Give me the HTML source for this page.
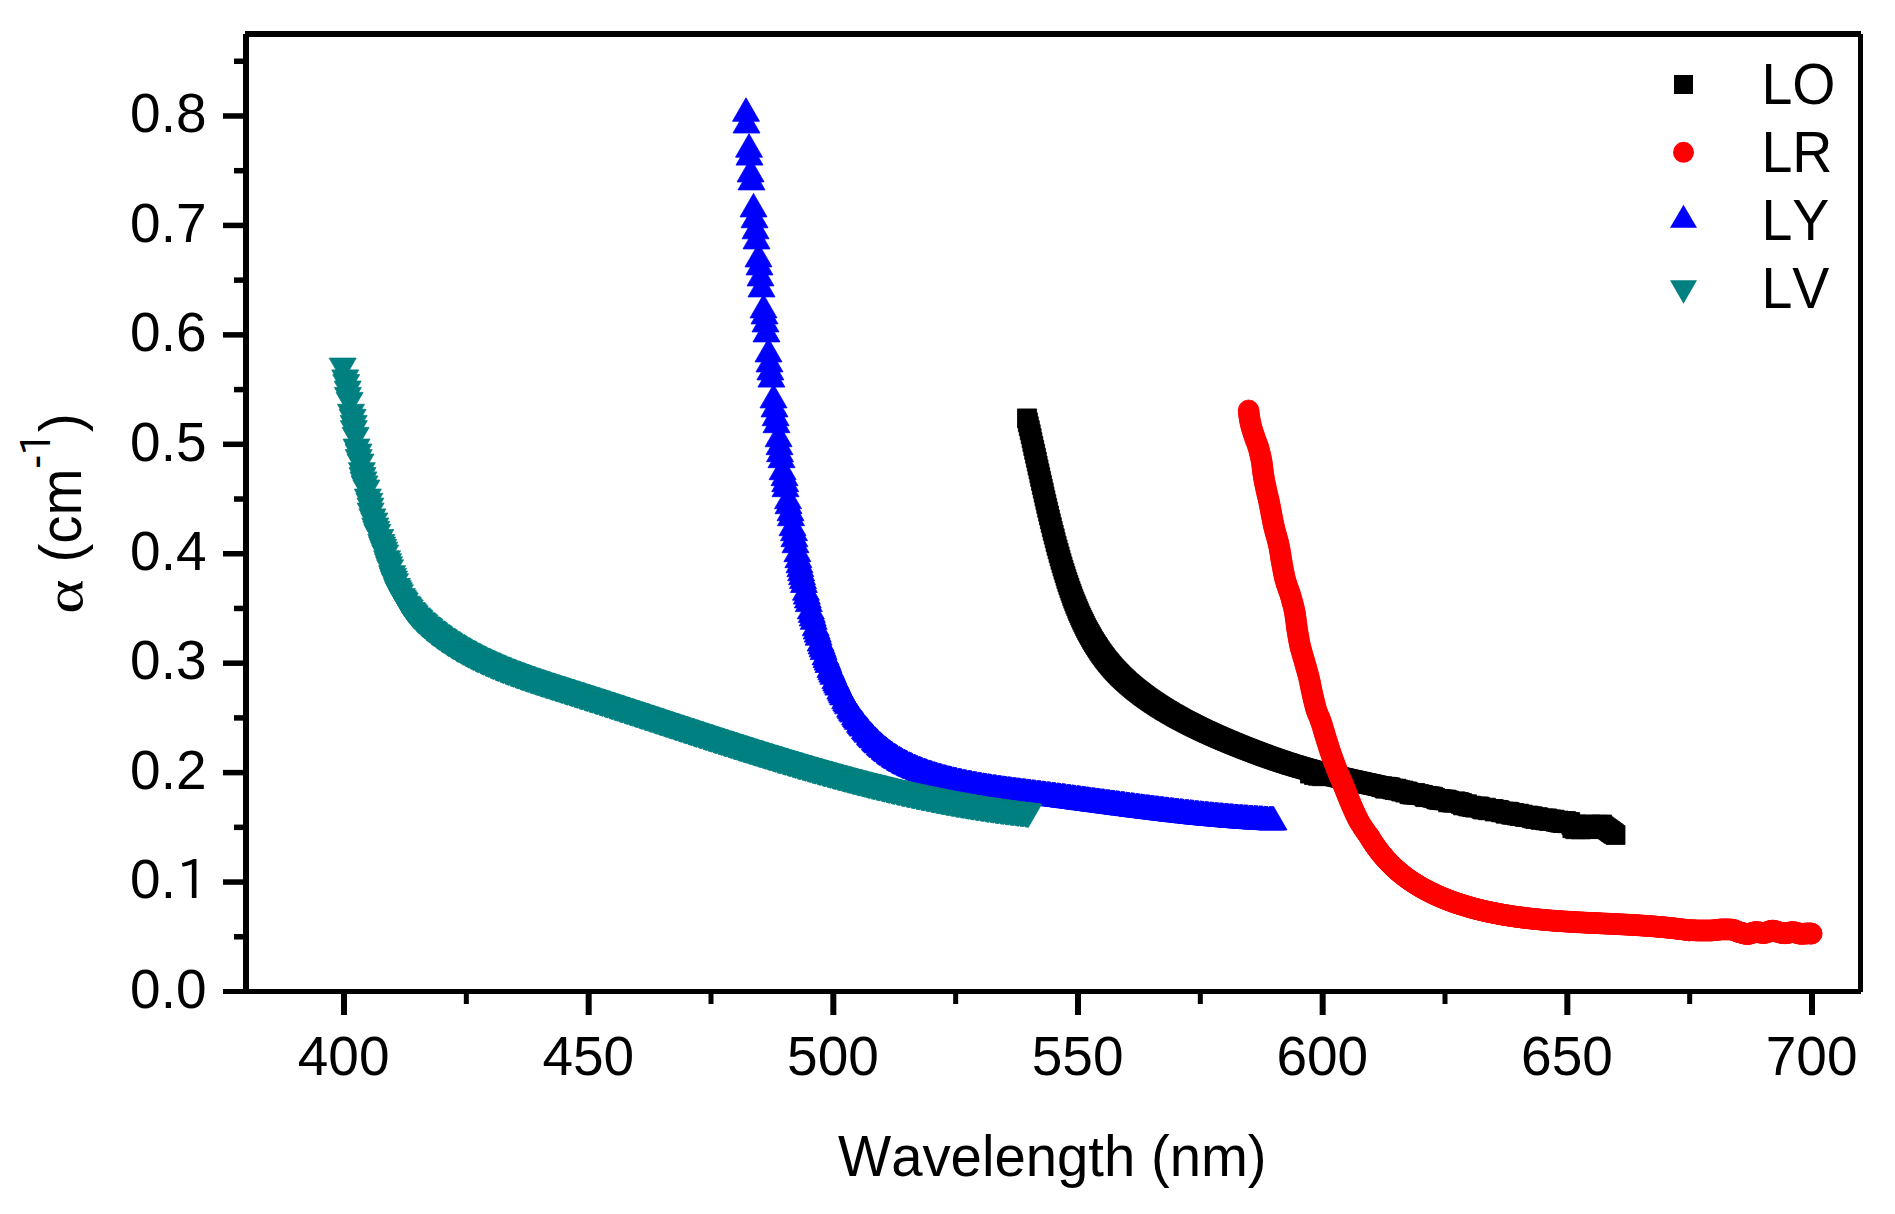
<!DOCTYPE html><html><head><meta charset="utf-8"><title>Absorption</title>
<style>html,body{margin:0;padding:0;background:#fff}svg{display:block}text{font-family:"Liberation Sans",sans-serif;fill:#000;font-kerning:none}</style></head><body>
<svg width="1895" height="1214" viewBox="0 0 1895 1214">
<rect width="1895" height="1214" fill="#fff"/>
<path fill="#000" stroke="#000" stroke-width="0.8" d="M1017.5 408.9h19v19h-19zM1018.4 412.8h19v19h-19zM1019.3 416.8h19v19h-19zM1020.3 420.8h19v19h-19zM1021.2 424.7h19v19h-19zM1022.1 428.6h19v19h-19zM1022.9 432.6h19v19h-19zM1023.8 436.5h19v19h-19zM1024.7 440.4h19v19h-19zM1025.6 444.3h19v19h-19zM1026.4 448.2h19v19h-19zM1027.3 452.1h19v19h-19zM1028.1 456h19v19h-19zM1029 459.9h19v19h-19zM1029.9 463.8h19v19h-19zM1030.7 467.6h19v19h-19zM1031.6 471.5h19v19h-19zM1032.4 475.4h19v19h-19zM1033.3 479.2h19v19h-19zM1034.2 483.1h19v19h-19zM1035 486.9h19v19h-19zM1035.9 490.7h19v19h-19zM1036.8 494.6h19v19h-19zM1037.7 498.4h19v19h-19zM1038.6 502.2h19v19h-19zM1039.5 506h19v19h-19zM1040.4 509.9h19v19h-19zM1041.3 513.7h19v19h-19zM1042.3 517.5h19v19h-19zM1043.2 521.3h19v19h-19zM1044.2 525.1h19v19h-19zM1045.2 528.8h19v19h-19zM1046.1 532.6h19v19h-19zM1047.1 536.3h19v19h-19zM1048.1 539.9h19v19h-19zM1049.1 543.4h19v19h-19zM1050.1 546.9h19v19h-19zM1051 550.3h19v19h-19zM1052 553.7h19v19h-19zM1053 557h19v19h-19zM1054 560.3h19v19h-19zM1055 563.5h19v19h-19zM1056 566.6h19v19h-19zM1056.9 569.6h19v19h-19zM1057.9 572.6h19v19h-19zM1058.9 575.6h19v19h-19zM1059.9 578.4h19v19h-19zM1060.9 581.3h19v19h-19zM1061.9 584h19v19h-19zM1062.8 586.7h19v19h-19zM1063.8 589.3h19v19h-19zM1064.8 591.9h19v19h-19zM1065.8 594.4h19v19h-19zM1066.8 596.8h19v19h-19zM1067.8 599.2h19v19h-19zM1068.7 601.5h19v19h-19zM1069.7 603.8h19v19h-19zM1070.7 606.1h19v19h-19zM1071.7 608.2h19v19h-19zM1072.7 610.4h19v19h-19zM1073.7 612.4h19v19h-19zM1074.7 614.5h19v19h-19zM1075.6 616.5h19v19h-19zM1076.6 618.4h19v19h-19zM1077.6 620.4h19v19h-19zM1078.6 622.2h19v19h-19zM1079.6 624.1h19v19h-19zM1080.6 625.8h19v19h-19zM1081.6 627.6h19v19h-19zM1082.5 629.3h19v19h-19zM1083.5 631h19v19h-19zM1084.5 632.6h19v19h-19zM1085.5 634.2h19v19h-19zM1086.5 635.8h19v19h-19zM1087.5 637.3h19v19h-19zM1088.5 638.8h19v19h-19zM1089.4 640.3h19v19h-19zM1090.4 641.8h19v19h-19zM1091.4 643.2h19v19h-19zM1092.4 644.6h19v19h-19zM1093.4 646h19v19h-19zM1094.4 647.3h19v19h-19zM1095.4 648.6h19v19h-19zM1096.3 649.9h19v19h-19zM1097.3 651.1h19v19h-19zM1098.3 652.4h19v19h-19zM1099.3 653.6h19v19h-19zM1100.3 654.8h19v19h-19zM1101.3 656h19v19h-19zM1102.3 657.1h19v19h-19zM1103.2 658.2h19v19h-19zM1104.2 659.3h19v19h-19zM1105.2 660.4h19v19h-19zM1106.2 661.5h19v19h-19zM1107.2 662.5h19v19h-19zM1108.2 663.6h19v19h-19zM1109.2 664.6h19v19h-19zM1110.2 665.6h19v19h-19zM1111.1 666.6h19v19h-19zM1112.1 667.5h19v19h-19zM1113.1 668.5h19v19h-19zM1114.1 669.4h19v19h-19zM1115.1 670.3h19v19h-19zM1116.1 671.2h19v19h-19zM1117 672.1h19v19h-19zM1118 673h19v19h-19zM1119 673.9h19v19h-19zM1120 674.7h19v19h-19zM1121 675.6h19v19h-19zM1122 676.4h19v19h-19zM1123 677.3h19v19h-19zM1124 678.1h19v19h-19zM1124.9 678.9h19v19h-19zM1125.9 679.7h19v19h-19zM1126.9 680.5h19v19h-19zM1127.9 681.3h19v19h-19zM1128.9 682h19v19h-19zM1129.9 682.8h19v19h-19zM1130.9 683.6h19v19h-19zM1131.9 684.3h19v19h-19zM1132.8 685.1h19v19h-19zM1133.8 685.8h19v19h-19zM1134.8 686.5h19v19h-19zM1135.8 687.2h19v19h-19zM1136.8 688h19v19h-19zM1137.8 688.7h19v19h-19zM1138.8 689.4h19v19h-19zM1139.8 690.1h19v19h-19zM1140.7 690.7h19v19h-19zM1141.7 691.4h19v19h-19zM1142.7 692.1h19v19h-19zM1143.7 692.8h19v19h-19zM1144.7 693.4h19v19h-19zM1145.7 694.1h19v19h-19zM1146.7 694.7h19v19h-19zM1147.7 695.4h19v19h-19zM1148.7 696h19v19h-19zM1149.6 696.7h19v19h-19zM1150.6 697.3h19v19h-19zM1151.6 697.9h19v19h-19zM1152.6 698.5h19v19h-19zM1153.6 699.1h19v19h-19zM1154.6 699.8h19v19h-19zM1155.6 700.4h19v19h-19zM1156.6 701h19v19h-19zM1157.5 701.5h19v19h-19zM1158.5 702.1h19v19h-19zM1159.5 702.7h19v19h-19zM1160.5 703.3h19v19h-19zM1161.5 703.9h19v19h-19zM1162.5 704.5h19v19h-19zM1163.5 705h19v19h-19zM1164.4 705.6h19v19h-19zM1165.4 706.1h19v19h-19zM1166.4 706.7h19v19h-19zM1167.4 707.3h19v19h-19zM1168.4 707.8h19v19h-19zM1169.4 708.4h19v19h-19zM1170.4 708.9h19v19h-19zM1171.4 709.4h19v19h-19zM1172.4 710h19v19h-19zM1173.3 710.5h19v19h-19zM1174.3 711h19v19h-19zM1175.3 711.5h19v19h-19zM1176.3 712.1h19v19h-19zM1177.3 712.6h19v19h-19zM1178.3 713.1h19v19h-19zM1179.3 713.6h19v19h-19zM1180.3 714.1h19v19h-19zM1181.3 714.6h19v19h-19zM1182.2 715.1h19v19h-19zM1183.2 715.6h19v19h-19zM1184.2 716.1h19v19h-19zM1185.2 716.6h19v19h-19zM1186.2 717.1h19v19h-19zM1187.2 717.6h19v19h-19zM1188.2 718.1h19v19h-19zM1189.2 718.5h19v19h-19zM1190.2 719h19v19h-19zM1191.1 719.5h19v19h-19zM1192.1 720h19v19h-19zM1193.1 720.4h19v19h-19zM1194.1 720.9h19v19h-19zM1195.1 721.4h19v19h-19zM1196.1 721.8h19v19h-19zM1197.1 722.3h19v19h-19zM1198.1 722.7h19v19h-19zM1199 723.2h19v19h-19zM1200 723.6h19v19h-19zM1201 724.1h19v19h-19zM1202 724.5h19v19h-19zM1203 725h19v19h-19zM1204 725.4h19v19h-19zM1205 725.9h19v19h-19zM1206 726.3h19v19h-19zM1207 726.7h19v19h-19zM1208 727.2h19v19h-19zM1208.9 727.6h19v19h-19zM1209.9 728h19v19h-19zM1210.9 728.5h19v19h-19zM1211.9 728.9h19v19h-19zM1212.9 729.3h19v19h-19zM1213.9 729.7h19v19h-19zM1214.9 730.2h19v19h-19zM1215.8 730.6h19v19h-19zM1216.8 731h19v19h-19zM1217.8 731.4h19v19h-19zM1218.8 731.8h19v19h-19zM1219.8 732.2h19v19h-19zM1220.8 732.7h19v19h-19zM1221.8 733.1h19v19h-19zM1222.8 733.5h19v19h-19zM1223.8 733.9h19v19h-19zM1224.8 734.3h19v19h-19zM1225.7 734.7h19v19h-19zM1226.7 735.1h19v19h-19zM1227.7 735.5h19v19h-19zM1228.7 735.9h19v19h-19zM1229.7 736.3h19v19h-19zM1230.7 736.7h19v19h-19zM1231.7 737.1h19v19h-19zM1232.7 737.5h19v19h-19zM1233.7 737.9h19v19h-19zM1234.7 738.3h19v19h-19zM1235.7 738.7h19v19h-19zM1236.7 739.1h19v19h-19zM1237.7 739.4h19v19h-19zM1238.7 739.8h19v19h-19zM1239.7 740.2h19v19h-19zM1240.7 740.6h19v19h-19zM1241.7 741h19v19h-19zM1242.7 741.4h19v19h-19zM1243.7 741.8h19v19h-19zM1244.7 742.1h19v19h-19zM1245.7 742.5h19v19h-19zM1246.7 742.9h19v19h-19zM1247.6 743.3h19v19h-19zM1248.6 743.6h19v19h-19zM1249.6 744h19v19h-19zM1250.6 744.4h19v19h-19zM1251.6 744.7h19v19h-19zM1252.5 745.1h19v19h-19zM1253.5 745.4h19v19h-19zM1254.5 745.8h19v19h-19zM1255.5 746.2h19v19h-19zM1256.5 746.5h19v19h-19zM1257.5 746.9h19v19h-19zM1258.4 747.2h19v19h-19zM1259.4 747.6h19v19h-19zM1260.4 747.9h19v19h-19zM1261.4 748.3h19v19h-19zM1262.4 748.6h19v19h-19zM1263.4 749h19v19h-19zM1264.3 749.3h19v19h-19zM1265.3 749.6h19v19h-19zM1266.3 750h19v19h-19zM1267.3 750.3h19v19h-19zM1268.3 750.7h19v19h-19zM1269.3 751h19v19h-19zM1270.3 751.3h19v19h-19zM1271.3 751.7h19v19h-19zM1272.3 752h19v19h-19zM1273.2 752.3h19v19h-19zM1274.2 752.6h19v19h-19zM1275.2 753h19v19h-19zM1276.2 753.3h19v19h-19zM1277.2 753.6h19v19h-19zM1278.2 753.9h19v19h-19zM1279.2 754.2h19v19h-19zM1280.2 754.6h19v19h-19zM1281.2 754.9h19v19h-19zM1282.2 755.2h19v19h-19zM1283.2 755.5h19v19h-19zM1284.2 755.8h19v19h-19zM1285.2 756.1h19v19h-19zM1286.2 756.4h19v19h-19zM1287.2 756.7h19v19h-19zM1288.1 757h19v19h-19zM1289.1 757.3h19v19h-19zM1290.1 757.6h19v19h-19zM1291.1 757.9h19v19h-19zM1292.1 758.2h19v19h-19zM1293 758.4h19v19h-19zM1294 758.7h19v19h-19zM1295 759h19v19h-19zM1296 759.3h19v19h-19zM1297 759.6h19v19h-19zM1298 759.8h19v19h-19zM1299 760.1h19v19h-19zM1299.9 760.4h19v19h-19zM1300.9 760.7h19v19h-19zM1301.9 760.9h19v19h-19zM1302.9 761.2h19v19h-19zM1303.9 761.5h19v19h-19zM1304.9 761.7h19v19h-19zM1305.9 762h19v19h-19zM1306.9 762.2h19v19h-19zM1307.9 762.5h19v19h-19zM1308.9 762.8h19v19h-19zM1309.9 763h19v19h-19zM1310.9 763.3h19v19h-19zM1311.9 763.5h19v19h-19zM1312.8 763.8h19v19h-19zM1313.8 764h19v19h-19zM1314.8 764.3h19v19h-19zM1315.8 764.5h19v19h-19zM1316.8 764.8h19v19h-19zM1317.8 765h19v19h-19zM1318.8 765.2h19v19h-19zM1319.8 765.5h19v19h-19zM1320.8 765.7h19v19h-19zM1321.8 765.9h19v19h-19zM1322.8 766.2h19v19h-19zM1323.7 766.4h19v19h-19zM1324.7 766.6h19v19h-19zM1325.7 766.9h19v19h-19zM1326.7 767.1h19v19h-19zM1327.7 767.3h19v19h-19zM1328.6 767.6h19v19h-19zM1329.6 767.8h19v19h-19zM1330.6 768h19v19h-19zM1331.6 768.2h19v19h-19zM1332.6 768.5h19v19h-19zM1333.6 768.7h19v19h-19zM1334.6 768.9h19v19h-19zM1335.5 769.1h19v19h-19zM1336.5 769.4h19v19h-19zM1337.5 769.6h19v19h-19zM1338.5 769.8h19v19h-19zM1339.5 770h19v19h-19zM1340.5 770.2h19v19h-19zM1341.5 770.5h19v19h-19zM1342.4 770.7h19v19h-19zM1343.4 770.9h19v19h-19zM1344.4 771.1h19v19h-19zM1345.4 771.3h19v19h-19zM1346.4 771.5h19v19h-19zM1347.4 771.8h19v19h-19zM1348.4 772h19v19h-19zM1349.4 772.2h19v19h-19zM1350.4 772.4h19v19h-19zM1351.3 772.6h19v19h-19zM1352.3 772.8h19v19h-19zM1353.3 773.1h19v19h-19zM1354.3 773.3h19v19h-19zM1355.3 773.5h19v19h-19zM1356.3 773.7h19v19h-19zM1357.3 773.9h19v19h-19zM1358.3 774.1h19v19h-19zM1359.3 774.4h19v19h-19zM1360.2 774.6h19v19h-19zM1361.2 774.8h19v19h-19zM1362.2 775h19v19h-19zM1363.2 775.2h19v19h-19zM1364.2 775.4h19v19h-19zM1365.2 775.7h19v19h-19zM1366.2 775.9h19v19h-19zM1367.2 776.1h19v19h-19zM1368.2 776.3h19v19h-19zM1369.2 776.5h19v19h-19zM1370.1 776.7h19v19h-19zM1371.1 777.1h19v19h-19zM1372.1 777.7h19v19h-19zM1373.1 776.8h19v19h-19zM1374.1 777.6h19v19h-19zM1375.1 778.8h19v19h-19zM1376.1 779.1h19v19h-19zM1377.1 777.3h19v19h-19zM1378.1 777.7h19v19h-19zM1379.1 777.5h19v19h-19zM1380 778.8h19v19h-19zM1381 777.9h19v19h-19zM1382 779.2h19v19h-19zM1383 779.9h19v19h-19zM1384 779.2h19v19h-19zM1385 780.4h19v19h-19zM1386 780.4h19v19h-19zM1387 779.2h19v19h-19zM1388 780.8h19v19h-19zM1389 780.2h19v19h-19zM1390 780.9h19v19h-19zM1390.9 780.7h19v19h-19zM1391.9 782h19v19h-19zM1392.9 781.6h19v19h-19zM1393.9 781.1h19v19h-19zM1394.9 782.3h19v19h-19zM1395.9 783.1h19v19h-19zM1396.9 782.1h19v19h-19zM1397.9 782.1h19v19h-19zM1398.9 782.7h19v19h-19zM1399.9 784.4h19v19h-19zM1400.9 784.7h19v19h-19zM1401.9 784.1h19v19h-19zM1402.8 784.9h19v19h-19zM1403.8 785h19v19h-19zM1404.8 784h19v19h-19zM1405.8 783.5h19v19h-19zM1406.8 785.2h19v19h-19zM1407.8 785.1h19v19h-19zM1408.8 784.8h19v19h-19zM1409.8 784.7h19v19h-19zM1410.8 785.4h19v19h-19zM1411.8 785.7h19v19h-19zM1412.8 785.4h19v19h-19zM1413.8 785.7h19v19h-19zM1414.8 786.4h19v19h-19zM1415.7 787.6h19v19h-19zM1416.7 787.1h19v19h-19zM1417.7 786.5h19v19h-19zM1418.7 786.7h19v19h-19zM1419.7 787.4h19v19h-19zM1420.7 787h19v19h-19zM1421.7 787.2h19v19h-19zM1422.7 788.2h19v19h-19zM1423.7 787.3h19v19h-19zM1424.7 788.6h19v19h-19zM1425.7 788.5h19v19h-19zM1426.7 789.6h19v19h-19zM1427.7 789.9h19v19h-19zM1428.7 789.9h19v19h-19zM1429.6 790.2h19v19h-19zM1430.6 789.5h19v19h-19zM1431.6 790.5h19v19h-19zM1432.6 789.9h19v19h-19zM1433.6 790.7h19v19h-19zM1434.6 790.3h19v19h-19zM1435.6 790.8h19v19h-19zM1436.6 790h19v19h-19zM1437.6 790.7h19v19h-19zM1438.6 792.8h19v19h-19zM1439.6 791.1h19v19h-19zM1440.6 792.5h19v19h-19zM1441.6 792.6h19v19h-19zM1442.6 793h19v19h-19zM1443.6 792.5h19v19h-19zM1444.5 793.1h19v19h-19zM1445.5 791.9h19v19h-19zM1446.5 792.1h19v19h-19zM1447.5 792.6h19v19h-19zM1448.5 792.7h19v19h-19zM1449.5 792.8h19v19h-19zM1450.5 793.1h19v19h-19zM1451.5 794.4h19v19h-19zM1452.5 793.6h19v19h-19zM1453.5 795.8h19v19h-19zM1454.5 795.3h19v19h-19zM1455.5 795.2h19v19h-19zM1456.5 795.8h19v19h-19zM1457.5 794.8h19v19h-19zM1458.5 796.8h19v19h-19zM1459.5 796.7h19v19h-19zM1460.5 796.7h19v19h-19zM1461.5 796.2h19v19h-19zM1462.4 797.4h19v19h-19zM1463.4 797.3h19v19h-19zM1464.4 797.3h19v19h-19zM1465.4 798.1h19v19h-19zM1466.4 797.6h19v19h-19zM1467.4 797.1h19v19h-19zM1468.4 797.8h19v19h-19zM1469.4 797.1h19v19h-19zM1470.4 797.3h19v19h-19zM1471.4 798.8h19v19h-19zM1472.4 799.2h19v19h-19zM1473.4 799.9h19v19h-19zM1474.4 799.8h19v19h-19zM1475.4 799.2h19v19h-19zM1476.4 798.2h19v19h-19zM1477.4 799.4h19v19h-19zM1478.4 800.7h19v19h-19zM1479.4 800.6h19v19h-19zM1480.4 800h19v19h-19zM1481.4 800.1h19v19h-19zM1482.4 799.7h19v19h-19zM1483.4 799.7h19v19h-19zM1484.3 799.7h19v19h-19zM1485.3 802h19v19h-19zM1486.3 801.5h19v19h-19zM1487.3 800.4h19v19h-19zM1488.3 801.3h19v19h-19zM1489.3 800.5h19v19h-19zM1490.3 801.1h19v19h-19zM1491.3 802.7h19v19h-19zM1492.3 802.7h19v19h-19zM1493.3 802.4h19v19h-19zM1494.3 802.1h19v19h-19zM1495.3 803.2h19v19h-19zM1496.3 804.2h19v19h-19zM1497.3 803h19v19h-19zM1498.3 802.3h19v19h-19zM1499.3 802.4h19v19h-19zM1500.3 802.7h19v19h-19zM1501.3 805.1h19v19h-19zM1502.3 804.2h19v19h-19zM1503.3 805.2h19v19h-19zM1504.3 803.6h19v19h-19zM1505.3 804h19v19h-19zM1506.3 805.3h19v19h-19zM1507.3 806h19v19h-19zM1508.3 804.8h19v19h-19zM1509.3 804.2h19v19h-19zM1510.3 806.5h19v19h-19zM1511.3 805.2h19v19h-19zM1512.3 806.5h19v19h-19zM1513.3 805.2h19v19h-19zM1514.3 806.7h19v19h-19zM1515.3 807.3h19v19h-19zM1516.2 807.2h19v19h-19zM1517.2 806.4h19v19h-19zM1518.2 807.5h19v19h-19zM1519.2 806.1h19v19h-19zM1520.2 806.8h19v19h-19zM1521.2 807.2h19v19h-19zM1522.2 808.6h19v19h-19zM1523.2 806.8h19v19h-19zM1524.2 808.9h19v19h-19zM1525.2 808.9h19v19h-19zM1526.2 809.5h19v19h-19zM1527.2 808.1h19v19h-19zM1528.2 807.8h19v19h-19zM1529.2 808.1h19v19h-19zM1530.2 809.7h19v19h-19zM1531.2 810.3h19v19h-19zM1532.2 809.7h19v19h-19zM1533.2 809.3h19v19h-19zM1534.2 809h19v19h-19zM1535.2 810.6h19v19h-19zM1536.2 810.8h19v19h-19zM1537.2 808.9h19v19h-19zM1538.2 809.4h19v19h-19zM1539.2 811.2h19v19h-19zM1540.2 811.4h19v19h-19zM1541.2 810.1h19v19h-19zM1542.1 810.2h19v19h-19zM1543.1 810.7h19v19h-19zM1544.1 811.2h19v19h-19zM1545.1 810.2h19v19h-19zM1546.1 812.2h19v19h-19zM1547 811.6h19v19h-19zM1548 812.4h19v19h-19zM1549 811.1h19v19h-19zM1550 813.1h19v19h-19zM1551 812.7h19v19h-19zM1551.9 811.8h19v19h-19zM1552.9 813.5h19v19h-19zM1553.9 813h19v19h-19zM1554.9 813.5h19v19h-19zM1555.9 811.6h19v19h-19zM1556.8 811.8h19v19h-19zM1557.8 813.7h19v19h-19zM1558.8 812.7h19v19h-19zM1559.8 813.4h19v19h-19zM1560.7 812.6h19v19h-19zM1300.5 764.1h19v19h-19zM1304.5 765.5h19v19h-19zM1308.5 766.3h19v19h-19zM1312.5 766.7h19v19h-19zM1561.9 815.4h19v19h-19zM1562.9 818.7h19v19h-19zM1563.9 817.1h19v19h-19zM1564.8 818.5h19v19h-19zM1565.8 819.7h19v19h-19zM1566.5 815.1h19v19h-19zM1567.8 817.4h19v19h-19zM1568.8 815.3h19v19h-19zM1569.7 816.3h19v19h-19zM1570.7 817.4h19v19h-19zM1571.4 819.8h19v19h-19zM1572.7 818.9h19v19h-19zM1573.7 816.8h19v19h-19zM1574.6 815.3h19v19h-19zM1575.6 816.4h19v19h-19zM1576.6 819.4h19v19h-19zM1577.5 819.5h19v19h-19zM1578.6 817.2h19v19h-19zM1579.5 819.5h19v19h-19zM1581 815.1h19v19h-19zM1581.5 817.9h19v19h-19zM1582.5 819.6h19v19h-19zM1583.5 816.1h19v19h-19zM1584.5 818.9h19v19h-19zM1585.4 819.4h19v19h-19zM1586.4 815.6h19v19h-19zM1587.4 817.5h19v19h-19zM1588 815.3h19v19h-19zM1589.3 818.2h19v19h-19zM1590.3 817.2h19v19h-19zM1591.3 816h19v19h-19zM1592.6 815h19v19h-19zM1593.6 816.7h19v19h-19zM1594.6 817.4h19v19h-19zM1595.6 818.1h19v19h-19zM1596.5 818.8h19v19h-19zM1597.5 819.5h19v19h-19zM1598.5 820.2h19v19h-19zM1599.5 820.9h19v19h-19zM1600.5 821.6h19v19h-19zM1601.4 822.3h19v19h-19zM1602.4 823h19v19h-19zM1603.4 823.7h19v19h-19zM1604.4 824.4h19v19h-19zM1606 825.5h19v19h-19z"/>
<path fill="#f00" stroke="#f00" stroke-width="0.8" d="M1238.2 410.4a10.4 10.4 0 1 0 20.8 0a10.4 10.4 0 1 0 -20.8 0zM1238.4 412.9a10.4 10.4 0 1 0 20.8 0a10.4 10.4 0 1 0 -20.8 0zM1238.7 415.4a10.4 10.4 0 1 0 20.8 0a10.4 10.4 0 1 0 -20.8 0zM1239.1 417.9a10.4 10.4 0 1 0 20.8 0a10.4 10.4 0 1 0 -20.8 0zM1239.5 420.4a10.4 10.4 0 1 0 20.8 0a10.4 10.4 0 1 0 -20.8 0zM1240 422.9a10.4 10.4 0 1 0 20.8 0a10.4 10.4 0 1 0 -20.8 0zM1240.6 425.4a10.4 10.4 0 1 0 20.8 0a10.4 10.4 0 1 0 -20.8 0zM1241.3 427.9a10.4 10.4 0 1 0 20.8 0a10.4 10.4 0 1 0 -20.8 0zM1242 430.4a10.4 10.4 0 1 0 20.8 0a10.4 10.4 0 1 0 -20.8 0zM1242.8 432.9a10.4 10.4 0 1 0 20.8 0a10.4 10.4 0 1 0 -20.8 0zM1243.7 435.4a10.4 10.4 0 1 0 20.8 0a10.4 10.4 0 1 0 -20.8 0zM1244.5 437.9a10.4 10.4 0 1 0 20.8 0a10.4 10.4 0 1 0 -20.8 0zM1245.4 440.4a10.4 10.4 0 1 0 20.8 0a10.4 10.4 0 1 0 -20.8 0zM1246.4 442.9a10.4 10.4 0 1 0 20.8 0a10.4 10.4 0 1 0 -20.8 0zM1247.3 445.4a10.4 10.4 0 1 0 20.8 0a10.4 10.4 0 1 0 -20.8 0zM1248.1 447.9a10.4 10.4 0 1 0 20.8 0a10.4 10.4 0 1 0 -20.8 0zM1248.8 450.4a10.4 10.4 0 1 0 20.8 0a10.4 10.4 0 1 0 -20.8 0zM1249.4 452.9a10.4 10.4 0 1 0 20.8 0a10.4 10.4 0 1 0 -20.8 0zM1250 455.4a10.4 10.4 0 1 0 20.8 0a10.4 10.4 0 1 0 -20.8 0zM1250.6 457.9a10.4 10.4 0 1 0 20.8 0a10.4 10.4 0 1 0 -20.8 0zM1251 460.4a10.4 10.4 0 1 0 20.8 0a10.4 10.4 0 1 0 -20.8 0zM1251.5 462.9a10.4 10.4 0 1 0 20.8 0a10.4 10.4 0 1 0 -20.8 0zM1251.8 465.4a10.4 10.4 0 1 0 20.8 0a10.4 10.4 0 1 0 -20.8 0zM1252.1 467.9a10.4 10.4 0 1 0 20.8 0a10.4 10.4 0 1 0 -20.8 0zM1252.4 470.4a10.4 10.4 0 1 0 20.8 0a10.4 10.4 0 1 0 -20.8 0zM1252.7 472.9a10.4 10.4 0 1 0 20.8 0a10.4 10.4 0 1 0 -20.8 0zM1253.1 475.4a10.4 10.4 0 1 0 20.8 0a10.4 10.4 0 1 0 -20.8 0zM1253.5 477.9a10.4 10.4 0 1 0 20.8 0a10.4 10.4 0 1 0 -20.8 0zM1253.9 480.4a10.4 10.4 0 1 0 20.8 0a10.4 10.4 0 1 0 -20.8 0zM1254.4 482.9a10.4 10.4 0 1 0 20.8 0a10.4 10.4 0 1 0 -20.8 0zM1255 485.4a10.4 10.4 0 1 0 20.8 0a10.4 10.4 0 1 0 -20.8 0zM1255.5 487.9a10.4 10.4 0 1 0 20.8 0a10.4 10.4 0 1 0 -20.8 0zM1256 490.4a10.4 10.4 0 1 0 20.8 0a10.4 10.4 0 1 0 -20.8 0zM1256.6 492.9a10.4 10.4 0 1 0 20.8 0a10.4 10.4 0 1 0 -20.8 0zM1257.2 495.4a10.4 10.4 0 1 0 20.8 0a10.4 10.4 0 1 0 -20.8 0zM1257.8 497.9a10.4 10.4 0 1 0 20.8 0a10.4 10.4 0 1 0 -20.8 0zM1258.4 500.4a10.4 10.4 0 1 0 20.8 0a10.4 10.4 0 1 0 -20.8 0zM1258.9 502.9a10.4 10.4 0 1 0 20.8 0a10.4 10.4 0 1 0 -20.8 0zM1259.4 505.4a10.4 10.4 0 1 0 20.8 0a10.4 10.4 0 1 0 -20.8 0zM1259.9 507.9a10.4 10.4 0 1 0 20.8 0a10.4 10.4 0 1 0 -20.8 0zM1260.4 510.4a10.4 10.4 0 1 0 20.8 0a10.4 10.4 0 1 0 -20.8 0zM1260.8 512.9a10.4 10.4 0 1 0 20.8 0a10.4 10.4 0 1 0 -20.8 0zM1261.3 515.4a10.4 10.4 0 1 0 20.8 0a10.4 10.4 0 1 0 -20.8 0zM1261.8 517.9a10.4 10.4 0 1 0 20.8 0a10.4 10.4 0 1 0 -20.8 0zM1262.3 520.4a10.4 10.4 0 1 0 20.8 0a10.4 10.4 0 1 0 -20.8 0zM1262.8 522.9a10.4 10.4 0 1 0 20.8 0a10.4 10.4 0 1 0 -20.8 0zM1263.3 525.4a10.4 10.4 0 1 0 20.8 0a10.4 10.4 0 1 0 -20.8 0zM1263.9 527.9a10.4 10.4 0 1 0 20.8 0a10.4 10.4 0 1 0 -20.8 0zM1264.5 530.4a10.4 10.4 0 1 0 20.8 0a10.4 10.4 0 1 0 -20.8 0zM1265.2 532.9a10.4 10.4 0 1 0 20.8 0a10.4 10.4 0 1 0 -20.8 0zM1265.9 535.4a10.4 10.4 0 1 0 20.8 0a10.4 10.4 0 1 0 -20.8 0zM1266.6 537.9a10.4 10.4 0 1 0 20.8 0a10.4 10.4 0 1 0 -20.8 0zM1267.3 540.4a10.4 10.4 0 1 0 20.8 0a10.4 10.4 0 1 0 -20.8 0zM1267.9 542.9a10.4 10.4 0 1 0 20.8 0a10.4 10.4 0 1 0 -20.8 0zM1268.5 545.4a10.4 10.4 0 1 0 20.8 0a10.4 10.4 0 1 0 -20.8 0zM1269 547.9a10.4 10.4 0 1 0 20.8 0a10.4 10.4 0 1 0 -20.8 0zM1269.4 550.4a10.4 10.4 0 1 0 20.8 0a10.4 10.4 0 1 0 -20.8 0zM1269.9 552.9a10.4 10.4 0 1 0 20.8 0a10.4 10.4 0 1 0 -20.8 0zM1270.3 555.4a10.4 10.4 0 1 0 20.8 0a10.4 10.4 0 1 0 -20.8 0zM1270.6 557.9a10.4 10.4 0 1 0 20.8 0a10.4 10.4 0 1 0 -20.8 0zM1271 560.4a10.4 10.4 0 1 0 20.8 0a10.4 10.4 0 1 0 -20.8 0zM1271.5 562.9a10.4 10.4 0 1 0 20.8 0a10.4 10.4 0 1 0 -20.8 0zM1271.9 565.4a10.4 10.4 0 1 0 20.8 0a10.4 10.4 0 1 0 -20.8 0zM1272.4 567.9a10.4 10.4 0 1 0 20.8 0a10.4 10.4 0 1 0 -20.8 0zM1272.9 570.4a10.4 10.4 0 1 0 20.8 0a10.4 10.4 0 1 0 -20.8 0zM1273.3 572.9a10.4 10.4 0 1 0 20.8 0a10.4 10.4 0 1 0 -20.8 0zM1273.9 575.4a10.4 10.4 0 1 0 20.8 0a10.4 10.4 0 1 0 -20.8 0zM1274.4 577.9a10.4 10.4 0 1 0 20.8 0a10.4 10.4 0 1 0 -20.8 0zM1275.1 580.4a10.4 10.4 0 1 0 20.8 0a10.4 10.4 0 1 0 -20.8 0zM1275.8 582.9a10.4 10.4 0 1 0 20.8 0a10.4 10.4 0 1 0 -20.8 0zM1276.6 585.4a10.4 10.4 0 1 0 20.8 0a10.4 10.4 0 1 0 -20.8 0zM1277.5 587.9a10.4 10.4 0 1 0 20.8 0a10.4 10.4 0 1 0 -20.8 0zM1278.4 590.4a10.4 10.4 0 1 0 20.8 0a10.4 10.4 0 1 0 -20.8 0zM1279.3 592.9a10.4 10.4 0 1 0 20.8 0a10.4 10.4 0 1 0 -20.8 0zM1280.1 595.4a10.4 10.4 0 1 0 20.8 0a10.4 10.4 0 1 0 -20.8 0zM1280.8 597.9a10.4 10.4 0 1 0 20.8 0a10.4 10.4 0 1 0 -20.8 0zM1281.5 600.4a10.4 10.4 0 1 0 20.8 0a10.4 10.4 0 1 0 -20.8 0zM1282.2 602.9a10.4 10.4 0 1 0 20.8 0a10.4 10.4 0 1 0 -20.8 0zM1282.8 605.4a10.4 10.4 0 1 0 20.8 0a10.4 10.4 0 1 0 -20.8 0zM1283.5 607.9a10.4 10.4 0 1 0 20.8 0a10.4 10.4 0 1 0 -20.8 0zM1284 610.4a10.4 10.4 0 1 0 20.8 0a10.4 10.4 0 1 0 -20.8 0zM1284.5 612.9a10.4 10.4 0 1 0 20.8 0a10.4 10.4 0 1 0 -20.8 0zM1284.9 615.4a10.4 10.4 0 1 0 20.8 0a10.4 10.4 0 1 0 -20.8 0zM1285.2 617.9a10.4 10.4 0 1 0 20.8 0a10.4 10.4 0 1 0 -20.8 0zM1285.6 620.4a10.4 10.4 0 1 0 20.8 0a10.4 10.4 0 1 0 -20.8 0zM1285.9 622.9a10.4 10.4 0 1 0 20.8 0a10.4 10.4 0 1 0 -20.8 0zM1286.2 625.4a10.4 10.4 0 1 0 20.8 0a10.4 10.4 0 1 0 -20.8 0zM1286.5 627.9a10.4 10.4 0 1 0 20.8 0a10.4 10.4 0 1 0 -20.8 0zM1286.9 630.4a10.4 10.4 0 1 0 20.8 0a10.4 10.4 0 1 0 -20.8 0zM1287.3 632.9a10.4 10.4 0 1 0 20.8 0a10.4 10.4 0 1 0 -20.8 0zM1287.7 635.4a10.4 10.4 0 1 0 20.8 0a10.4 10.4 0 1 0 -20.8 0zM1288.2 637.9a10.4 10.4 0 1 0 20.8 0a10.4 10.4 0 1 0 -20.8 0zM1288.6 640.4a10.4 10.4 0 1 0 20.8 0a10.4 10.4 0 1 0 -20.8 0zM1289.1 642.9a10.4 10.4 0 1 0 20.8 0a10.4 10.4 0 1 0 -20.8 0zM1289.6 645.4a10.4 10.4 0 1 0 20.8 0a10.4 10.4 0 1 0 -20.8 0zM1290.2 647.9a10.4 10.4 0 1 0 20.8 0a10.4 10.4 0 1 0 -20.8 0zM1290.9 650.4a10.4 10.4 0 1 0 20.8 0a10.4 10.4 0 1 0 -20.8 0zM1291.6 652.9a10.4 10.4 0 1 0 20.8 0a10.4 10.4 0 1 0 -20.8 0zM1292.3 655.4a10.4 10.4 0 1 0 20.8 0a10.4 10.4 0 1 0 -20.8 0zM1293.1 657.9a10.4 10.4 0 1 0 20.8 0a10.4 10.4 0 1 0 -20.8 0zM1293.8 660.4a10.4 10.4 0 1 0 20.8 0a10.4 10.4 0 1 0 -20.8 0zM1294.5 662.9a10.4 10.4 0 1 0 20.8 0a10.4 10.4 0 1 0 -20.8 0zM1295.2 665.4a10.4 10.4 0 1 0 20.8 0a10.4 10.4 0 1 0 -20.8 0zM1295.9 667.9a10.4 10.4 0 1 0 20.8 0a10.4 10.4 0 1 0 -20.8 0zM1296.6 670.4a10.4 10.4 0 1 0 20.8 0a10.4 10.4 0 1 0 -20.8 0zM1297.3 672.9a10.4 10.4 0 1 0 20.8 0a10.4 10.4 0 1 0 -20.8 0zM1298 675.4a10.4 10.4 0 1 0 20.8 0a10.4 10.4 0 1 0 -20.8 0zM1298.6 677.9a10.4 10.4 0 1 0 20.8 0a10.4 10.4 0 1 0 -20.8 0zM1299.2 680.4a10.4 10.4 0 1 0 20.8 0a10.4 10.4 0 1 0 -20.8 0zM1299.7 682.9a10.4 10.4 0 1 0 20.8 0a10.4 10.4 0 1 0 -20.8 0zM1300.2 685.4a10.4 10.4 0 1 0 20.8 0a10.4 10.4 0 1 0 -20.8 0zM1300.7 687.9a10.4 10.4 0 1 0 20.8 0a10.4 10.4 0 1 0 -20.8 0zM1301.2 690.4a10.4 10.4 0 1 0 20.8 0a10.4 10.4 0 1 0 -20.8 0zM1301.8 692.9a10.4 10.4 0 1 0 20.8 0a10.4 10.4 0 1 0 -20.8 0zM1302.3 695.4a10.4 10.4 0 1 0 20.8 0a10.4 10.4 0 1 0 -20.8 0zM1302.9 697.9a10.4 10.4 0 1 0 20.8 0a10.4 10.4 0 1 0 -20.8 0zM1303.5 700.4a10.4 10.4 0 1 0 20.8 0a10.4 10.4 0 1 0 -20.8 0zM1304.1 702.9a10.4 10.4 0 1 0 20.8 0a10.4 10.4 0 1 0 -20.8 0zM1304.7 705.4a10.4 10.4 0 1 0 20.8 0a10.4 10.4 0 1 0 -20.8 0zM1305.4 707.9a10.4 10.4 0 1 0 20.8 0a10.4 10.4 0 1 0 -20.8 0zM1306.1 710.4a10.4 10.4 0 1 0 20.8 0a10.4 10.4 0 1 0 -20.8 0zM1307 712.9a10.4 10.4 0 1 0 20.8 0a10.4 10.4 0 1 0 -20.8 0zM1308.1 715.4a10.4 10.4 0 1 0 20.8 0a10.4 10.4 0 1 0 -20.8 0zM1309.2 717.9a10.4 10.4 0 1 0 20.8 0a10.4 10.4 0 1 0 -20.8 0zM1310.1 720.4a10.4 10.4 0 1 0 20.8 0a10.4 10.4 0 1 0 -20.8 0zM1311 722.9a10.4 10.4 0 1 0 20.8 0a10.4 10.4 0 1 0 -20.8 0zM1311.8 725.4a10.4 10.4 0 1 0 20.8 0a10.4 10.4 0 1 0 -20.8 0zM1312.5 727.9a10.4 10.4 0 1 0 20.8 0a10.4 10.4 0 1 0 -20.8 0zM1313.3 730.4a10.4 10.4 0 1 0 20.8 0a10.4 10.4 0 1 0 -20.8 0zM1314 732.9a10.4 10.4 0 1 0 20.8 0a10.4 10.4 0 1 0 -20.8 0zM1314.7 735.4a10.4 10.4 0 1 0 20.8 0a10.4 10.4 0 1 0 -20.8 0zM1315.5 737.9a10.4 10.4 0 1 0 20.8 0a10.4 10.4 0 1 0 -20.8 0zM1316.3 740.4a10.4 10.4 0 1 0 20.8 0a10.4 10.4 0 1 0 -20.8 0zM1317.1 742.9a10.4 10.4 0 1 0 20.8 0a10.4 10.4 0 1 0 -20.8 0zM1317.9 745.4a10.4 10.4 0 1 0 20.8 0a10.4 10.4 0 1 0 -20.8 0zM1318.6 747.9a10.4 10.4 0 1 0 20.8 0a10.4 10.4 0 1 0 -20.8 0zM1319.5 750.4a10.4 10.4 0 1 0 20.8 0a10.4 10.4 0 1 0 -20.8 0zM1320.3 752.9a10.4 10.4 0 1 0 20.8 0a10.4 10.4 0 1 0 -20.8 0zM1321.2 755.4a10.4 10.4 0 1 0 20.8 0a10.4 10.4 0 1 0 -20.8 0zM1322 757.9a10.4 10.4 0 1 0 20.8 0a10.4 10.4 0 1 0 -20.8 0zM1323 760.4a10.4 10.4 0 1 0 20.8 0a10.4 10.4 0 1 0 -20.8 0zM1323.9 762.9a10.4 10.4 0 1 0 20.8 0a10.4 10.4 0 1 0 -20.8 0zM1324.8 765.4a10.4 10.4 0 1 0 20.8 0a10.4 10.4 0 1 0 -20.8 0zM1325.8 767.9a10.4 10.4 0 1 0 20.8 0a10.4 10.4 0 1 0 -20.8 0zM1326.8 770.4a10.4 10.4 0 1 0 20.8 0a10.4 10.4 0 1 0 -20.8 0zM1327.8 772.9a10.4 10.4 0 1 0 20.8 0a10.4 10.4 0 1 0 -20.8 0zM1328.8 775.4a10.4 10.4 0 1 0 20.8 0a10.4 10.4 0 1 0 -20.8 0zM1329.9 777.9a10.4 10.4 0 1 0 20.8 0a10.4 10.4 0 1 0 -20.8 0zM1330.9 780.4a10.4 10.4 0 1 0 20.8 0a10.4 10.4 0 1 0 -20.8 0zM1332 782.9a10.4 10.4 0 1 0 20.8 0a10.4 10.4 0 1 0 -20.8 0zM1333 785.4a10.4 10.4 0 1 0 20.8 0a10.4 10.4 0 1 0 -20.8 0zM1334.1 787.9a10.4 10.4 0 1 0 20.8 0a10.4 10.4 0 1 0 -20.8 0zM1335.1 790.4a10.4 10.4 0 1 0 20.8 0a10.4 10.4 0 1 0 -20.8 0zM1336.1 792.9a10.4 10.4 0 1 0 20.8 0a10.4 10.4 0 1 0 -20.8 0zM1337.1 795.4a10.4 10.4 0 1 0 20.8 0a10.4 10.4 0 1 0 -20.8 0zM1338.1 797.9a10.4 10.4 0 1 0 20.8 0a10.4 10.4 0 1 0 -20.8 0zM1339.1 800.4a10.4 10.4 0 1 0 20.8 0a10.4 10.4 0 1 0 -20.8 0zM1340.2 802.9a10.4 10.4 0 1 0 20.8 0a10.4 10.4 0 1 0 -20.8 0zM1341.2 805.4a10.4 10.4 0 1 0 20.8 0a10.4 10.4 0 1 0 -20.8 0zM1342.3 807.9a10.4 10.4 0 1 0 20.8 0a10.4 10.4 0 1 0 -20.8 0zM1343.4 810.4a10.4 10.4 0 1 0 20.8 0a10.4 10.4 0 1 0 -20.8 0zM1344.5 812.9a10.4 10.4 0 1 0 20.8 0a10.4 10.4 0 1 0 -20.8 0zM1345.7 815.4a10.4 10.4 0 1 0 20.8 0a10.4 10.4 0 1 0 -20.8 0zM1346.9 817.9a10.4 10.4 0 1 0 20.8 0a10.4 10.4 0 1 0 -20.8 0zM1348.2 820.4a10.4 10.4 0 1 0 20.8 0a10.4 10.4 0 1 0 -20.8 0zM1349.6 822.9a10.4 10.4 0 1 0 20.8 0a10.4 10.4 0 1 0 -20.8 0zM1351.2 825.4a10.4 10.4 0 1 0 20.8 0a10.4 10.4 0 1 0 -20.8 0zM1352.8 827.9a10.4 10.4 0 1 0 20.8 0a10.4 10.4 0 1 0 -20.8 0zM1354.5 830.4a10.4 10.4 0 1 0 20.8 0a10.4 10.4 0 1 0 -20.8 0zM1356.2 832.9a10.4 10.4 0 1 0 20.8 0a10.4 10.4 0 1 0 -20.8 0zM1358.1 835.4a10.4 10.4 0 1 0 20.8 0a10.4 10.4 0 1 0 -20.8 0zM1358.6 836a10.4 10.4 0 1 0 20.8 0a10.4 10.4 0 1 0 -20.8 0zM1359.5 837.6a10.4 10.4 0 1 0 20.8 0a10.4 10.4 0 1 0 -20.8 0zM1360.5 839.2a10.4 10.4 0 1 0 20.8 0a10.4 10.4 0 1 0 -20.8 0zM1361.4 840.7a10.4 10.4 0 1 0 20.8 0a10.4 10.4 0 1 0 -20.8 0zM1362.3 842.1a10.4 10.4 0 1 0 20.8 0a10.4 10.4 0 1 0 -20.8 0zM1363.3 843.5a10.4 10.4 0 1 0 20.8 0a10.4 10.4 0 1 0 -20.8 0zM1364.2 844.9a10.4 10.4 0 1 0 20.8 0a10.4 10.4 0 1 0 -20.8 0zM1365.2 846.3a10.4 10.4 0 1 0 20.8 0a10.4 10.4 0 1 0 -20.8 0zM1366.1 847.6a10.4 10.4 0 1 0 20.8 0a10.4 10.4 0 1 0 -20.8 0zM1367 848.9a10.4 10.4 0 1 0 20.8 0a10.4 10.4 0 1 0 -20.8 0zM1368 850.1a10.4 10.4 0 1 0 20.8 0a10.4 10.4 0 1 0 -20.8 0zM1368.9 851.4a10.4 10.4 0 1 0 20.8 0a10.4 10.4 0 1 0 -20.8 0zM1369.9 852.6a10.4 10.4 0 1 0 20.8 0a10.4 10.4 0 1 0 -20.8 0zM1370.8 853.8a10.4 10.4 0 1 0 20.8 0a10.4 10.4 0 1 0 -20.8 0zM1371.8 854.9a10.4 10.4 0 1 0 20.8 0a10.4 10.4 0 1 0 -20.8 0zM1372.7 856a10.4 10.4 0 1 0 20.8 0a10.4 10.4 0 1 0 -20.8 0zM1373.7 857.1a10.4 10.4 0 1 0 20.8 0a10.4 10.4 0 1 0 -20.8 0zM1374.6 858.2a10.4 10.4 0 1 0 20.8 0a10.4 10.4 0 1 0 -20.8 0zM1375.5 859.3a10.4 10.4 0 1 0 20.8 0a10.4 10.4 0 1 0 -20.8 0zM1376.5 860.3a10.4 10.4 0 1 0 20.8 0a10.4 10.4 0 1 0 -20.8 0zM1377.5 861.3a10.4 10.4 0 1 0 20.8 0a10.4 10.4 0 1 0 -20.8 0zM1378.4 862.3a10.4 10.4 0 1 0 20.8 0a10.4 10.4 0 1 0 -20.8 0zM1379.4 863.3a10.4 10.4 0 1 0 20.8 0a10.4 10.4 0 1 0 -20.8 0zM1380.3 864.3a10.4 10.4 0 1 0 20.8 0a10.4 10.4 0 1 0 -20.8 0zM1381.3 865.2a10.4 10.4 0 1 0 20.8 0a10.4 10.4 0 1 0 -20.8 0zM1382.2 866.1a10.4 10.4 0 1 0 20.8 0a10.4 10.4 0 1 0 -20.8 0zM1383.2 867.1a10.4 10.4 0 1 0 20.8 0a10.4 10.4 0 1 0 -20.8 0zM1384.1 868a10.4 10.4 0 1 0 20.8 0a10.4 10.4 0 1 0 -20.8 0zM1385.1 868.8a10.4 10.4 0 1 0 20.8 0a10.4 10.4 0 1 0 -20.8 0zM1386 869.7a10.4 10.4 0 1 0 20.8 0a10.4 10.4 0 1 0 -20.8 0zM1387 870.5a10.4 10.4 0 1 0 20.8 0a10.4 10.4 0 1 0 -20.8 0zM1388 871.4a10.4 10.4 0 1 0 20.8 0a10.4 10.4 0 1 0 -20.8 0zM1388.9 872.2a10.4 10.4 0 1 0 20.8 0a10.4 10.4 0 1 0 -20.8 0zM1389.9 873a10.4 10.4 0 1 0 20.8 0a10.4 10.4 0 1 0 -20.8 0zM1390.8 873.8a10.4 10.4 0 1 0 20.8 0a10.4 10.4 0 1 0 -20.8 0zM1391.8 874.6a10.4 10.4 0 1 0 20.8 0a10.4 10.4 0 1 0 -20.8 0zM1392.8 875.3a10.4 10.4 0 1 0 20.8 0a10.4 10.4 0 1 0 -20.8 0zM1393.7 876.1a10.4 10.4 0 1 0 20.8 0a10.4 10.4 0 1 0 -20.8 0zM1394.7 876.8a10.4 10.4 0 1 0 20.8 0a10.4 10.4 0 1 0 -20.8 0zM1395.7 877.6a10.4 10.4 0 1 0 20.8 0a10.4 10.4 0 1 0 -20.8 0zM1396.7 878.3a10.4 10.4 0 1 0 20.8 0a10.4 10.4 0 1 0 -20.8 0zM1397.7 879a10.4 10.4 0 1 0 20.8 0a10.4 10.4 0 1 0 -20.8 0zM1398.6 879.7a10.4 10.4 0 1 0 20.8 0a10.4 10.4 0 1 0 -20.8 0zM1399.6 880.3a10.4 10.4 0 1 0 20.8 0a10.4 10.4 0 1 0 -20.8 0zM1400.6 881a10.4 10.4 0 1 0 20.8 0a10.4 10.4 0 1 0 -20.8 0zM1401.6 881.7a10.4 10.4 0 1 0 20.8 0a10.4 10.4 0 1 0 -20.8 0zM1402.6 882.3a10.4 10.4 0 1 0 20.8 0a10.4 10.4 0 1 0 -20.8 0zM1403.6 883a10.4 10.4 0 1 0 20.8 0a10.4 10.4 0 1 0 -20.8 0zM1404.5 883.6a10.4 10.4 0 1 0 20.8 0a10.4 10.4 0 1 0 -20.8 0zM1405.5 884.2a10.4 10.4 0 1 0 20.8 0a10.4 10.4 0 1 0 -20.8 0zM1406.5 884.8a10.4 10.4 0 1 0 20.8 0a10.4 10.4 0 1 0 -20.8 0zM1407.5 885.4a10.4 10.4 0 1 0 20.8 0a10.4 10.4 0 1 0 -20.8 0zM1408.5 886a10.4 10.4 0 1 0 20.8 0a10.4 10.4 0 1 0 -20.8 0zM1409.5 886.6a10.4 10.4 0 1 0 20.8 0a10.4 10.4 0 1 0 -20.8 0zM1410.4 887.2a10.4 10.4 0 1 0 20.8 0a10.4 10.4 0 1 0 -20.8 0zM1411.4 887.7a10.4 10.4 0 1 0 20.8 0a10.4 10.4 0 1 0 -20.8 0zM1412.4 888.3a10.4 10.4 0 1 0 20.8 0a10.4 10.4 0 1 0 -20.8 0zM1413.4 888.8a10.4 10.4 0 1 0 20.8 0a10.4 10.4 0 1 0 -20.8 0zM1414.4 889.4a10.4 10.4 0 1 0 20.8 0a10.4 10.4 0 1 0 -20.8 0zM1415.4 889.9a10.4 10.4 0 1 0 20.8 0a10.4 10.4 0 1 0 -20.8 0zM1416.4 890.4a10.4 10.4 0 1 0 20.8 0a10.4 10.4 0 1 0 -20.8 0zM1417.3 890.9a10.4 10.4 0 1 0 20.8 0a10.4 10.4 0 1 0 -20.8 0zM1418.3 891.4a10.4 10.4 0 1 0 20.8 0a10.4 10.4 0 1 0 -20.8 0zM1419.3 891.9a10.4 10.4 0 1 0 20.8 0a10.4 10.4 0 1 0 -20.8 0zM1420.3 892.4a10.4 10.4 0 1 0 20.8 0a10.4 10.4 0 1 0 -20.8 0zM1421.3 892.9a10.4 10.4 0 1 0 20.8 0a10.4 10.4 0 1 0 -20.8 0zM1422.3 893.4a10.4 10.4 0 1 0 20.8 0a10.4 10.4 0 1 0 -20.8 0zM1423.2 893.8a10.4 10.4 0 1 0 20.8 0a10.4 10.4 0 1 0 -20.8 0zM1424.2 894.3a10.4 10.4 0 1 0 20.8 0a10.4 10.4 0 1 0 -20.8 0zM1425.2 894.8a10.4 10.4 0 1 0 20.8 0a10.4 10.4 0 1 0 -20.8 0zM1426.2 895.2a10.4 10.4 0 1 0 20.8 0a10.4 10.4 0 1 0 -20.8 0zM1427.2 895.7a10.4 10.4 0 1 0 20.8 0a10.4 10.4 0 1 0 -20.8 0zM1428.2 896.1a10.4 10.4 0 1 0 20.8 0a10.4 10.4 0 1 0 -20.8 0zM1429.2 896.5a10.4 10.4 0 1 0 20.8 0a10.4 10.4 0 1 0 -20.8 0zM1430.1 897a10.4 10.4 0 1 0 20.8 0a10.4 10.4 0 1 0 -20.8 0zM1431.1 897.4a10.4 10.4 0 1 0 20.8 0a10.4 10.4 0 1 0 -20.8 0zM1432.1 897.8a10.4 10.4 0 1 0 20.8 0a10.4 10.4 0 1 0 -20.8 0zM1433.1 898.2a10.4 10.4 0 1 0 20.8 0a10.4 10.4 0 1 0 -20.8 0zM1434.1 898.6a10.4 10.4 0 1 0 20.8 0a10.4 10.4 0 1 0 -20.8 0zM1435.1 899a10.4 10.4 0 1 0 20.8 0a10.4 10.4 0 1 0 -20.8 0zM1436 899.4a10.4 10.4 0 1 0 20.8 0a10.4 10.4 0 1 0 -20.8 0zM1437 899.8a10.4 10.4 0 1 0 20.8 0a10.4 10.4 0 1 0 -20.8 0zM1438 900.1a10.4 10.4 0 1 0 20.8 0a10.4 10.4 0 1 0 -20.8 0zM1439 900.5a10.4 10.4 0 1 0 20.8 0a10.4 10.4 0 1 0 -20.8 0zM1440 900.9a10.4 10.4 0 1 0 20.8 0a10.4 10.4 0 1 0 -20.8 0zM1441 901.3a10.4 10.4 0 1 0 20.8 0a10.4 10.4 0 1 0 -20.8 0zM1442 901.6a10.4 10.4 0 1 0 20.8 0a10.4 10.4 0 1 0 -20.8 0zM1442.9 902a10.4 10.4 0 1 0 20.8 0a10.4 10.4 0 1 0 -20.8 0zM1443.9 902.3a10.4 10.4 0 1 0 20.8 0a10.4 10.4 0 1 0 -20.8 0zM1444.9 902.7a10.4 10.4 0 1 0 20.8 0a10.4 10.4 0 1 0 -20.8 0zM1445.9 903a10.4 10.4 0 1 0 20.8 0a10.4 10.4 0 1 0 -20.8 0zM1446.9 903.3a10.4 10.4 0 1 0 20.8 0a10.4 10.4 0 1 0 -20.8 0zM1447.9 903.7a10.4 10.4 0 1 0 20.8 0a10.4 10.4 0 1 0 -20.8 0zM1448.8 904a10.4 10.4 0 1 0 20.8 0a10.4 10.4 0 1 0 -20.8 0zM1449.8 904.3a10.4 10.4 0 1 0 20.8 0a10.4 10.4 0 1 0 -20.8 0zM1450.8 904.6a10.4 10.4 0 1 0 20.8 0a10.4 10.4 0 1 0 -20.8 0zM1451.8 904.9a10.4 10.4 0 1 0 20.8 0a10.4 10.4 0 1 0 -20.8 0zM1452.8 905.2a10.4 10.4 0 1 0 20.8 0a10.4 10.4 0 1 0 -20.8 0zM1453.8 905.5a10.4 10.4 0 1 0 20.8 0a10.4 10.4 0 1 0 -20.8 0zM1454.7 905.8a10.4 10.4 0 1 0 20.8 0a10.4 10.4 0 1 0 -20.8 0zM1455.7 906.1a10.4 10.4 0 1 0 20.8 0a10.4 10.4 0 1 0 -20.8 0zM1456.7 906.4a10.4 10.4 0 1 0 20.8 0a10.4 10.4 0 1 0 -20.8 0zM1457.7 906.7a10.4 10.4 0 1 0 20.8 0a10.4 10.4 0 1 0 -20.8 0zM1458.7 907a10.4 10.4 0 1 0 20.8 0a10.4 10.4 0 1 0 -20.8 0zM1459.7 907.3a10.4 10.4 0 1 0 20.8 0a10.4 10.4 0 1 0 -20.8 0zM1460.7 907.6a10.4 10.4 0 1 0 20.8 0a10.4 10.4 0 1 0 -20.8 0zM1461.6 907.8a10.4 10.4 0 1 0 20.8 0a10.4 10.4 0 1 0 -20.8 0zM1462.6 908.1a10.4 10.4 0 1 0 20.8 0a10.4 10.4 0 1 0 -20.8 0zM1463.6 908.4a10.4 10.4 0 1 0 20.8 0a10.4 10.4 0 1 0 -20.8 0zM1464.6 908.6a10.4 10.4 0 1 0 20.8 0a10.4 10.4 0 1 0 -20.8 0zM1465.6 908.9a10.4 10.4 0 1 0 20.8 0a10.4 10.4 0 1 0 -20.8 0zM1466.6 909.1a10.4 10.4 0 1 0 20.8 0a10.4 10.4 0 1 0 -20.8 0zM1467.5 909.4a10.4 10.4 0 1 0 20.8 0a10.4 10.4 0 1 0 -20.8 0zM1468.5 909.6a10.4 10.4 0 1 0 20.8 0a10.4 10.4 0 1 0 -20.8 0zM1469.5 909.9a10.4 10.4 0 1 0 20.8 0a10.4 10.4 0 1 0 -20.8 0zM1470.5 910.1a10.4 10.4 0 1 0 20.8 0a10.4 10.4 0 1 0 -20.8 0zM1471.5 910.4a10.4 10.4 0 1 0 20.8 0a10.4 10.4 0 1 0 -20.8 0zM1472.5 910.6a10.4 10.4 0 1 0 20.8 0a10.4 10.4 0 1 0 -20.8 0zM1473.5 910.8a10.4 10.4 0 1 0 20.8 0a10.4 10.4 0 1 0 -20.8 0zM1474.4 911a10.4 10.4 0 1 0 20.8 0a10.4 10.4 0 1 0 -20.8 0zM1475.4 911.3a10.4 10.4 0 1 0 20.8 0a10.4 10.4 0 1 0 -20.8 0zM1476.4 911.5a10.4 10.4 0 1 0 20.8 0a10.4 10.4 0 1 0 -20.8 0zM1477.4 911.7a10.4 10.4 0 1 0 20.8 0a10.4 10.4 0 1 0 -20.8 0zM1478.4 911.9a10.4 10.4 0 1 0 20.8 0a10.4 10.4 0 1 0 -20.8 0zM1479.4 912.1a10.4 10.4 0 1 0 20.8 0a10.4 10.4 0 1 0 -20.8 0zM1480.3 912.3a10.4 10.4 0 1 0 20.8 0a10.4 10.4 0 1 0 -20.8 0zM1481.3 912.5a10.4 10.4 0 1 0 20.8 0a10.4 10.4 0 1 0 -20.8 0zM1482.3 912.7a10.4 10.4 0 1 0 20.8 0a10.4 10.4 0 1 0 -20.8 0zM1483.3 912.9a10.4 10.4 0 1 0 20.8 0a10.4 10.4 0 1 0 -20.8 0zM1484.3 913.1a10.4 10.4 0 1 0 20.8 0a10.4 10.4 0 1 0 -20.8 0zM1485.3 913.3a10.4 10.4 0 1 0 20.8 0a10.4 10.4 0 1 0 -20.8 0zM1486.2 913.5a10.4 10.4 0 1 0 20.8 0a10.4 10.4 0 1 0 -20.8 0zM1487.2 913.7a10.4 10.4 0 1 0 20.8 0a10.4 10.4 0 1 0 -20.8 0zM1488.2 913.9a10.4 10.4 0 1 0 20.8 0a10.4 10.4 0 1 0 -20.8 0zM1489.2 914.1a10.4 10.4 0 1 0 20.8 0a10.4 10.4 0 1 0 -20.8 0zM1490.2 914.3a10.4 10.4 0 1 0 20.8 0a10.4 10.4 0 1 0 -20.8 0zM1491.2 914.4a10.4 10.4 0 1 0 20.8 0a10.4 10.4 0 1 0 -20.8 0zM1492.2 914.6a10.4 10.4 0 1 0 20.8 0a10.4 10.4 0 1 0 -20.8 0zM1493.1 914.8a10.4 10.4 0 1 0 20.8 0a10.4 10.4 0 1 0 -20.8 0zM1494.1 914.9a10.4 10.4 0 1 0 20.8 0a10.4 10.4 0 1 0 -20.8 0zM1495.1 915.1a10.4 10.4 0 1 0 20.8 0a10.4 10.4 0 1 0 -20.8 0zM1496.1 915.3a10.4 10.4 0 1 0 20.8 0a10.4 10.4 0 1 0 -20.8 0zM1497.1 915.4a10.4 10.4 0 1 0 20.8 0a10.4 10.4 0 1 0 -20.8 0zM1498.1 915.6a10.4 10.4 0 1 0 20.8 0a10.4 10.4 0 1 0 -20.8 0zM1499.1 915.7a10.4 10.4 0 1 0 20.8 0a10.4 10.4 0 1 0 -20.8 0zM1500 915.9a10.4 10.4 0 1 0 20.8 0a10.4 10.4 0 1 0 -20.8 0zM1501 916.1a10.4 10.4 0 1 0 20.8 0a10.4 10.4 0 1 0 -20.8 0zM1502 916.2a10.4 10.4 0 1 0 20.8 0a10.4 10.4 0 1 0 -20.8 0zM1503 916.3a10.4 10.4 0 1 0 20.8 0a10.4 10.4 0 1 0 -20.8 0zM1504 916.5a10.4 10.4 0 1 0 20.8 0a10.4 10.4 0 1 0 -20.8 0zM1504.9 916.6a10.4 10.4 0 1 0 20.8 0a10.4 10.4 0 1 0 -20.8 0zM1505.9 916.8a10.4 10.4 0 1 0 20.8 0a10.4 10.4 0 1 0 -20.8 0zM1506.9 916.9a10.4 10.4 0 1 0 20.8 0a10.4 10.4 0 1 0 -20.8 0zM1507.9 917a10.4 10.4 0 1 0 20.8 0a10.4 10.4 0 1 0 -20.8 0zM1508.9 917.2a10.4 10.4 0 1 0 20.8 0a10.4 10.4 0 1 0 -20.8 0zM1509.9 917.3a10.4 10.4 0 1 0 20.8 0a10.4 10.4 0 1 0 -20.8 0zM1510.9 917.4a10.4 10.4 0 1 0 20.8 0a10.4 10.4 0 1 0 -20.8 0zM1511.9 917.6a10.4 10.4 0 1 0 20.8 0a10.4 10.4 0 1 0 -20.8 0zM1512.8 917.7a10.4 10.4 0 1 0 20.8 0a10.4 10.4 0 1 0 -20.8 0zM1513.8 917.8a10.4 10.4 0 1 0 20.8 0a10.4 10.4 0 1 0 -20.8 0zM1514.8 917.9a10.4 10.4 0 1 0 20.8 0a10.4 10.4 0 1 0 -20.8 0zM1515.8 918.1a10.4 10.4 0 1 0 20.8 0a10.4 10.4 0 1 0 -20.8 0zM1516.8 918.2a10.4 10.4 0 1 0 20.8 0a10.4 10.4 0 1 0 -20.8 0zM1517.8 918.3a10.4 10.4 0 1 0 20.8 0a10.4 10.4 0 1 0 -20.8 0zM1518.7 918.4a10.4 10.4 0 1 0 20.8 0a10.4 10.4 0 1 0 -20.8 0zM1519.7 918.5a10.4 10.4 0 1 0 20.8 0a10.4 10.4 0 1 0 -20.8 0zM1520.7 918.6a10.4 10.4 0 1 0 20.8 0a10.4 10.4 0 1 0 -20.8 0zM1521.7 918.7a10.4 10.4 0 1 0 20.8 0a10.4 10.4 0 1 0 -20.8 0zM1522.7 918.8a10.4 10.4 0 1 0 20.8 0a10.4 10.4 0 1 0 -20.8 0zM1523.7 918.9a10.4 10.4 0 1 0 20.8 0a10.4 10.4 0 1 0 -20.8 0zM1524.6 919a10.4 10.4 0 1 0 20.8 0a10.4 10.4 0 1 0 -20.8 0zM1525.6 919.1a10.4 10.4 0 1 0 20.8 0a10.4 10.4 0 1 0 -20.8 0zM1526.6 919.2a10.4 10.4 0 1 0 20.8 0a10.4 10.4 0 1 0 -20.8 0zM1527.6 919.3a10.4 10.4 0 1 0 20.8 0a10.4 10.4 0 1 0 -20.8 0zM1528.6 919.4a10.4 10.4 0 1 0 20.8 0a10.4 10.4 0 1 0 -20.8 0zM1529.6 919.5a10.4 10.4 0 1 0 20.8 0a10.4 10.4 0 1 0 -20.8 0zM1530.5 919.6a10.4 10.4 0 1 0 20.8 0a10.4 10.4 0 1 0 -20.8 0zM1531.5 919.7a10.4 10.4 0 1 0 20.8 0a10.4 10.4 0 1 0 -20.8 0zM1532.5 919.8a10.4 10.4 0 1 0 20.8 0a10.4 10.4 0 1 0 -20.8 0zM1533.5 919.9a10.4 10.4 0 1 0 20.8 0a10.4 10.4 0 1 0 -20.8 0zM1534.5 920a10.4 10.4 0 1 0 20.8 0a10.4 10.4 0 1 0 -20.8 0zM1535.5 920.1a10.4 10.4 0 1 0 20.8 0a10.4 10.4 0 1 0 -20.8 0zM1536.5 920.2a10.4 10.4 0 1 0 20.8 0a10.4 10.4 0 1 0 -20.8 0zM1537.5 920.2a10.4 10.4 0 1 0 20.8 0a10.4 10.4 0 1 0 -20.8 0zM1538.4 920.3a10.4 10.4 0 1 0 20.8 0a10.4 10.4 0 1 0 -20.8 0zM1539.4 920.4a10.4 10.4 0 1 0 20.8 0a10.4 10.4 0 1 0 -20.8 0zM1540.4 920.5a10.4 10.4 0 1 0 20.8 0a10.4 10.4 0 1 0 -20.8 0zM1541.4 920.6a10.4 10.4 0 1 0 20.8 0a10.4 10.4 0 1 0 -20.8 0zM1542.4 920.6a10.4 10.4 0 1 0 20.8 0a10.4 10.4 0 1 0 -20.8 0zM1543.4 920.7a10.4 10.4 0 1 0 20.8 0a10.4 10.4 0 1 0 -20.8 0zM1544.4 920.8a10.4 10.4 0 1 0 20.8 0a10.4 10.4 0 1 0 -20.8 0zM1545.3 920.9a10.4 10.4 0 1 0 20.8 0a10.4 10.4 0 1 0 -20.8 0zM1546.3 920.9a10.4 10.4 0 1 0 20.8 0a10.4 10.4 0 1 0 -20.8 0zM1547.3 921a10.4 10.4 0 1 0 20.8 0a10.4 10.4 0 1 0 -20.8 0zM1548.3 921.1a10.4 10.4 0 1 0 20.8 0a10.4 10.4 0 1 0 -20.8 0zM1549.3 921.1a10.4 10.4 0 1 0 20.8 0a10.4 10.4 0 1 0 -20.8 0zM1550.2 921.2a10.4 10.4 0 1 0 20.8 0a10.4 10.4 0 1 0 -20.8 0zM1551.2 921.3a10.4 10.4 0 1 0 20.8 0a10.4 10.4 0 1 0 -20.8 0zM1552.2 921.3a10.4 10.4 0 1 0 20.8 0a10.4 10.4 0 1 0 -20.8 0zM1553.2 921.4a10.4 10.4 0 1 0 20.8 0a10.4 10.4 0 1 0 -20.8 0zM1554.2 921.5a10.4 10.4 0 1 0 20.8 0a10.4 10.4 0 1 0 -20.8 0zM1555.2 921.5a10.4 10.4 0 1 0 20.8 0a10.4 10.4 0 1 0 -20.8 0zM1556.1 921.6a10.4 10.4 0 1 0 20.8 0a10.4 10.4 0 1 0 -20.8 0zM1557.1 921.6a10.4 10.4 0 1 0 20.8 0a10.4 10.4 0 1 0 -20.8 0zM1558.1 921.7a10.4 10.4 0 1 0 20.8 0a10.4 10.4 0 1 0 -20.8 0zM1559.1 921.8a10.4 10.4 0 1 0 20.8 0a10.4 10.4 0 1 0 -20.8 0zM1560.1 921.8a10.4 10.4 0 1 0 20.8 0a10.4 10.4 0 1 0 -20.8 0zM1561 921.9a10.4 10.4 0 1 0 20.8 0a10.4 10.4 0 1 0 -20.8 0zM1562 921.9a10.4 10.4 0 1 0 20.8 0a10.4 10.4 0 1 0 -20.8 0zM1563 922a10.4 10.4 0 1 0 20.8 0a10.4 10.4 0 1 0 -20.8 0zM1564 922a10.4 10.4 0 1 0 20.8 0a10.4 10.4 0 1 0 -20.8 0zM1565 922.1a10.4 10.4 0 1 0 20.8 0a10.4 10.4 0 1 0 -20.8 0zM1566 922.2a10.4 10.4 0 1 0 20.8 0a10.4 10.4 0 1 0 -20.8 0zM1566.9 922.2a10.4 10.4 0 1 0 20.8 0a10.4 10.4 0 1 0 -20.8 0zM1567.9 922.3a10.4 10.4 0 1 0 20.8 0a10.4 10.4 0 1 0 -20.8 0zM1568.9 922.3a10.4 10.4 0 1 0 20.8 0a10.4 10.4 0 1 0 -20.8 0zM1569.9 922.4a10.4 10.4 0 1 0 20.8 0a10.4 10.4 0 1 0 -20.8 0zM1570.9 922.4a10.4 10.4 0 1 0 20.8 0a10.4 10.4 0 1 0 -20.8 0zM1571.9 922.5a10.4 10.4 0 1 0 20.8 0a10.4 10.4 0 1 0 -20.8 0zM1572.8 922.5a10.4 10.4 0 1 0 20.8 0a10.4 10.4 0 1 0 -20.8 0zM1573.8 922.6a10.4 10.4 0 1 0 20.8 0a10.4 10.4 0 1 0 -20.8 0zM1574.8 922.6a10.4 10.4 0 1 0 20.8 0a10.4 10.4 0 1 0 -20.8 0zM1575.8 922.7a10.4 10.4 0 1 0 20.8 0a10.4 10.4 0 1 0 -20.8 0zM1576.8 922.7a10.4 10.4 0 1 0 20.8 0a10.4 10.4 0 1 0 -20.8 0zM1577.8 922.8a10.4 10.4 0 1 0 20.8 0a10.4 10.4 0 1 0 -20.8 0zM1578.7 922.8a10.4 10.4 0 1 0 20.8 0a10.4 10.4 0 1 0 -20.8 0zM1579.7 922.9a10.4 10.4 0 1 0 20.8 0a10.4 10.4 0 1 0 -20.8 0zM1580.7 922.9a10.4 10.4 0 1 0 20.8 0a10.4 10.4 0 1 0 -20.8 0zM1581.7 923a10.4 10.4 0 1 0 20.8 0a10.4 10.4 0 1 0 -20.8 0zM1582.7 923a10.4 10.4 0 1 0 20.8 0a10.4 10.4 0 1 0 -20.8 0zM1583.7 923a10.4 10.4 0 1 0 20.8 0a10.4 10.4 0 1 0 -20.8 0zM1584.6 923.1a10.4 10.4 0 1 0 20.8 0a10.4 10.4 0 1 0 -20.8 0zM1585.6 923.1a10.4 10.4 0 1 0 20.8 0a10.4 10.4 0 1 0 -20.8 0zM1586.6 923.2a10.4 10.4 0 1 0 20.8 0a10.4 10.4 0 1 0 -20.8 0zM1587.6 923.2a10.4 10.4 0 1 0 20.8 0a10.4 10.4 0 1 0 -20.8 0zM1588.6 923.3a10.4 10.4 0 1 0 20.8 0a10.4 10.4 0 1 0 -20.8 0zM1589.5 923.3a10.4 10.4 0 1 0 20.8 0a10.4 10.4 0 1 0 -20.8 0zM1590.5 923.4a10.4 10.4 0 1 0 20.8 0a10.4 10.4 0 1 0 -20.8 0zM1591.5 923.4a10.4 10.4 0 1 0 20.8 0a10.4 10.4 0 1 0 -20.8 0zM1592.5 923.5a10.4 10.4 0 1 0 20.8 0a10.4 10.4 0 1 0 -20.8 0zM1593.5 923.5a10.4 10.4 0 1 0 20.8 0a10.4 10.4 0 1 0 -20.8 0zM1594.5 923.6a10.4 10.4 0 1 0 20.8 0a10.4 10.4 0 1 0 -20.8 0zM1595.4 923.6a10.4 10.4 0 1 0 20.8 0a10.4 10.4 0 1 0 -20.8 0zM1596.4 923.6a10.4 10.4 0 1 0 20.8 0a10.4 10.4 0 1 0 -20.8 0zM1597.4 923.7a10.4 10.4 0 1 0 20.8 0a10.4 10.4 0 1 0 -20.8 0zM1598.4 923.7a10.4 10.4 0 1 0 20.8 0a10.4 10.4 0 1 0 -20.8 0zM1599.4 923.8a10.4 10.4 0 1 0 20.8 0a10.4 10.4 0 1 0 -20.8 0zM1600.3 923.8a10.4 10.4 0 1 0 20.8 0a10.4 10.4 0 1 0 -20.8 0zM1601.3 923.9a10.4 10.4 0 1 0 20.8 0a10.4 10.4 0 1 0 -20.8 0zM1602.3 923.9a10.4 10.4 0 1 0 20.8 0a10.4 10.4 0 1 0 -20.8 0zM1603.3 924a10.4 10.4 0 1 0 20.8 0a10.4 10.4 0 1 0 -20.8 0zM1604.3 924a10.4 10.4 0 1 0 20.8 0a10.4 10.4 0 1 0 -20.8 0zM1605.3 924.1a10.4 10.4 0 1 0 20.8 0a10.4 10.4 0 1 0 -20.8 0zM1606.3 924.1a10.4 10.4 0 1 0 20.8 0a10.4 10.4 0 1 0 -20.8 0zM1607.3 924.2a10.4 10.4 0 1 0 20.8 0a10.4 10.4 0 1 0 -20.8 0zM1608.2 924.2a10.4 10.4 0 1 0 20.8 0a10.4 10.4 0 1 0 -20.8 0zM1609.2 924.3a10.4 10.4 0 1 0 20.8 0a10.4 10.4 0 1 0 -20.8 0zM1610.2 924.3a10.4 10.4 0 1 0 20.8 0a10.4 10.4 0 1 0 -20.8 0zM1611.2 924.4a10.4 10.4 0 1 0 20.8 0a10.4 10.4 0 1 0 -20.8 0zM1612.2 924.4a10.4 10.4 0 1 0 20.8 0a10.4 10.4 0 1 0 -20.8 0zM1613.2 924.5a10.4 10.4 0 1 0 20.8 0a10.4 10.4 0 1 0 -20.8 0zM1614.2 924.5a10.4 10.4 0 1 0 20.8 0a10.4 10.4 0 1 0 -20.8 0zM1615.2 924.6a10.4 10.4 0 1 0 20.8 0a10.4 10.4 0 1 0 -20.8 0zM1616.1 924.6a10.4 10.4 0 1 0 20.8 0a10.4 10.4 0 1 0 -20.8 0zM1617.1 924.7a10.4 10.4 0 1 0 20.8 0a10.4 10.4 0 1 0 -20.8 0zM1618.1 924.7a10.4 10.4 0 1 0 20.8 0a10.4 10.4 0 1 0 -20.8 0zM1619.1 924.8a10.4 10.4 0 1 0 20.8 0a10.4 10.4 0 1 0 -20.8 0zM1620.1 924.8a10.4 10.4 0 1 0 20.8 0a10.4 10.4 0 1 0 -20.8 0zM1621.1 924.9a10.4 10.4 0 1 0 20.8 0a10.4 10.4 0 1 0 -20.8 0zM1622 924.9a10.4 10.4 0 1 0 20.8 0a10.4 10.4 0 1 0 -20.8 0zM1623 925a10.4 10.4 0 1 0 20.8 0a10.4 10.4 0 1 0 -20.8 0zM1624 925.1a10.4 10.4 0 1 0 20.8 0a10.4 10.4 0 1 0 -20.8 0zM1625 925.1a10.4 10.4 0 1 0 20.8 0a10.4 10.4 0 1 0 -20.8 0zM1626 925.2a10.4 10.4 0 1 0 20.8 0a10.4 10.4 0 1 0 -20.8 0zM1627 925.2a10.4 10.4 0 1 0 20.8 0a10.4 10.4 0 1 0 -20.8 0zM1627.9 925.3a10.4 10.4 0 1 0 20.8 0a10.4 10.4 0 1 0 -20.8 0zM1628.9 925.4a10.4 10.4 0 1 0 20.8 0a10.4 10.4 0 1 0 -20.8 0zM1629.9 925.4a10.4 10.4 0 1 0 20.8 0a10.4 10.4 0 1 0 -20.8 0zM1630.9 925.5a10.4 10.4 0 1 0 20.8 0a10.4 10.4 0 1 0 -20.8 0zM1631.9 925.6a10.4 10.4 0 1 0 20.8 0a10.4 10.4 0 1 0 -20.8 0zM1632.9 925.6a10.4 10.4 0 1 0 20.8 0a10.4 10.4 0 1 0 -20.8 0zM1633.8 925.7a10.4 10.4 0 1 0 20.8 0a10.4 10.4 0 1 0 -20.8 0zM1634.8 925.8a10.4 10.4 0 1 0 20.8 0a10.4 10.4 0 1 0 -20.8 0zM1635.8 925.8a10.4 10.4 0 1 0 20.8 0a10.4 10.4 0 1 0 -20.8 0zM1636.8 925.9a10.4 10.4 0 1 0 20.8 0a10.4 10.4 0 1 0 -20.8 0zM1637.8 926a10.4 10.4 0 1 0 20.8 0a10.4 10.4 0 1 0 -20.8 0zM1638.8 926a10.4 10.4 0 1 0 20.8 0a10.4 10.4 0 1 0 -20.8 0zM1639.8 926.1a10.4 10.4 0 1 0 20.8 0a10.4 10.4 0 1 0 -20.8 0zM1640.7 926.2a10.4 10.4 0 1 0 20.8 0a10.4 10.4 0 1 0 -20.8 0zM1641.7 926.3a10.4 10.4 0 1 0 20.8 0a10.4 10.4 0 1 0 -20.8 0zM1642.7 926.3a10.4 10.4 0 1 0 20.8 0a10.4 10.4 0 1 0 -20.8 0zM1643.7 926.4a10.4 10.4 0 1 0 20.8 0a10.4 10.4 0 1 0 -20.8 0zM1644.7 926.5a10.4 10.4 0 1 0 20.8 0a10.4 10.4 0 1 0 -20.8 0zM1645.7 926.6a10.4 10.4 0 1 0 20.8 0a10.4 10.4 0 1 0 -20.8 0zM1646.6 926.7a10.4 10.4 0 1 0 20.8 0a10.4 10.4 0 1 0 -20.8 0zM1647.6 926.8a10.4 10.4 0 1 0 20.8 0a10.4 10.4 0 1 0 -20.8 0zM1648.6 926.8a10.4 10.4 0 1 0 20.8 0a10.4 10.4 0 1 0 -20.8 0zM1649.6 926.9a10.4 10.4 0 1 0 20.8 0a10.4 10.4 0 1 0 -20.8 0zM1650.6 927a10.4 10.4 0 1 0 20.8 0a10.4 10.4 0 1 0 -20.8 0zM1651.6 927.1a10.4 10.4 0 1 0 20.8 0a10.4 10.4 0 1 0 -20.8 0zM1652.6 927.2a10.4 10.4 0 1 0 20.8 0a10.4 10.4 0 1 0 -20.8 0zM1653.5 927.3a10.4 10.4 0 1 0 20.8 0a10.4 10.4 0 1 0 -20.8 0zM1654.5 927.4a10.4 10.4 0 1 0 20.8 0a10.4 10.4 0 1 0 -20.8 0zM1655.5 927.5a10.4 10.4 0 1 0 20.8 0a10.4 10.4 0 1 0 -20.8 0zM1656.5 927.6a10.4 10.4 0 1 0 20.8 0a10.4 10.4 0 1 0 -20.8 0zM1657.5 927.7a10.4 10.4 0 1 0 20.8 0a10.4 10.4 0 1 0 -20.8 0zM1658.5 927.8a10.4 10.4 0 1 0 20.8 0a10.4 10.4 0 1 0 -20.8 0zM1659.4 927.9a10.4 10.4 0 1 0 20.8 0a10.4 10.4 0 1 0 -20.8 0zM1660.4 928a10.4 10.4 0 1 0 20.8 0a10.4 10.4 0 1 0 -20.8 0zM1661.4 928.1a10.4 10.4 0 1 0 20.8 0a10.4 10.4 0 1 0 -20.8 0zM1662.4 928.2a10.4 10.4 0 1 0 20.8 0a10.4 10.4 0 1 0 -20.8 0zM1663.4 928.3a10.4 10.4 0 1 0 20.8 0a10.4 10.4 0 1 0 -20.8 0zM1664.4 928.4a10.4 10.4 0 1 0 20.8 0a10.4 10.4 0 1 0 -20.8 0zM1665.3 928.6a10.4 10.4 0 1 0 20.8 0a10.4 10.4 0 1 0 -20.8 0zM1666.3 928.7a10.4 10.4 0 1 0 20.8 0a10.4 10.4 0 1 0 -20.8 0zM1667.3 928.8a10.4 10.4 0 1 0 20.8 0a10.4 10.4 0 1 0 -20.8 0zM1668.3 928.9a10.4 10.4 0 1 0 20.8 0a10.4 10.4 0 1 0 -20.8 0zM1669.3 929a10.4 10.4 0 1 0 20.8 0a10.4 10.4 0 1 0 -20.8 0zM1670.3 929.2a10.4 10.4 0 1 0 20.8 0a10.4 10.4 0 1 0 -20.8 0zM1671.3 929.3a10.4 10.4 0 1 0 20.8 0a10.4 10.4 0 1 0 -20.8 0zM1672.2 929.4a10.4 10.4 0 1 0 20.8 0a10.4 10.4 0 1 0 -20.8 0zM1673.2 929.5a10.4 10.4 0 1 0 20.8 0a10.4 10.4 0 1 0 -20.8 0zM1674.2 929.7a10.4 10.4 0 1 0 20.8 0a10.4 10.4 0 1 0 -20.8 0zM1675.2 929.8a10.4 10.4 0 1 0 20.8 0a10.4 10.4 0 1 0 -20.8 0zM1676.2 930a10.4 10.4 0 1 0 20.8 0a10.4 10.4 0 1 0 -20.8 0zM1677.2 930.1a10.4 10.4 0 1 0 20.8 0a10.4 10.4 0 1 0 -20.8 0zM1678.1 930.2a10.4 10.4 0 1 0 20.8 0a10.4 10.4 0 1 0 -20.8 0zM1679.1 930.4a10.4 10.4 0 1 0 20.8 0a10.4 10.4 0 1 0 -20.8 0zM1679.2 930.4a10.4 10.4 0 1 0 20.8 0a10.4 10.4 0 1 0 -20.8 0zM1680.6 930.1a10.4 10.4 0 1 0 20.8 0a10.4 10.4 0 1 0 -20.8 0zM1681.6 930.2a10.4 10.4 0 1 0 20.8 0a10.4 10.4 0 1 0 -20.8 0zM1682.6 930.3a10.4 10.4 0 1 0 20.8 0a10.4 10.4 0 1 0 -20.8 0zM1683.5 930.3a10.4 10.4 0 1 0 20.8 0a10.4 10.4 0 1 0 -20.8 0zM1684.5 930.4a10.4 10.4 0 1 0 20.8 0a10.4 10.4 0 1 0 -20.8 0zM1685.5 930.4a10.4 10.4 0 1 0 20.8 0a10.4 10.4 0 1 0 -20.8 0zM1686.5 930.5a10.4 10.4 0 1 0 20.8 0a10.4 10.4 0 1 0 -20.8 0zM1687.5 930.5a10.4 10.4 0 1 0 20.8 0a10.4 10.4 0 1 0 -20.8 0zM1688.4 930.5a10.4 10.4 0 1 0 20.8 0a10.4 10.4 0 1 0 -20.8 0zM1689.4 930.5a10.4 10.4 0 1 0 20.8 0a10.4 10.4 0 1 0 -20.8 0zM1690.4 930.5a10.4 10.4 0 1 0 20.8 0a10.4 10.4 0 1 0 -20.8 0zM1691.4 930.5a10.4 10.4 0 1 0 20.8 0a10.4 10.4 0 1 0 -20.8 0zM1692.4 930.5a10.4 10.4 0 1 0 20.8 0a10.4 10.4 0 1 0 -20.8 0zM1693.3 930.5a10.4 10.4 0 1 0 20.8 0a10.4 10.4 0 1 0 -20.8 0zM1694.3 930.5a10.4 10.4 0 1 0 20.8 0a10.4 10.4 0 1 0 -20.8 0zM1695.3 930.5a10.4 10.4 0 1 0 20.8 0a10.4 10.4 0 1 0 -20.8 0zM1696.3 930.5a10.4 10.4 0 1 0 20.8 0a10.4 10.4 0 1 0 -20.8 0zM1697.3 930.5a10.4 10.4 0 1 0 20.8 0a10.4 10.4 0 1 0 -20.8 0zM1698.2 930.5a10.4 10.4 0 1 0 20.8 0a10.4 10.4 0 1 0 -20.8 0zM1699.2 930.5a10.4 10.4 0 1 0 20.8 0a10.4 10.4 0 1 0 -20.8 0zM1700.2 930.5a10.4 10.4 0 1 0 20.8 0a10.4 10.4 0 1 0 -20.8 0zM1701.2 930.5a10.4 10.4 0 1 0 20.8 0a10.4 10.4 0 1 0 -20.8 0zM1702.2 930.4a10.4 10.4 0 1 0 20.8 0a10.4 10.4 0 1 0 -20.8 0zM1703.1 930.3a10.4 10.4 0 1 0 20.8 0a10.4 10.4 0 1 0 -20.8 0zM1704.1 930.2a10.4 10.4 0 1 0 20.8 0a10.4 10.4 0 1 0 -20.8 0zM1705.1 930.1a10.4 10.4 0 1 0 20.8 0a10.4 10.4 0 1 0 -20.8 0zM1706.1 930a10.4 10.4 0 1 0 20.8 0a10.4 10.4 0 1 0 -20.8 0zM1707.1 929.9a10.4 10.4 0 1 0 20.8 0a10.4 10.4 0 1 0 -20.8 0zM1708 929.7a10.4 10.4 0 1 0 20.8 0a10.4 10.4 0 1 0 -20.8 0zM1709 929.6a10.4 10.4 0 1 0 20.8 0a10.4 10.4 0 1 0 -20.8 0zM1710 929.5a10.4 10.4 0 1 0 20.8 0a10.4 10.4 0 1 0 -20.8 0zM1711 929.4a10.4 10.4 0 1 0 20.8 0a10.4 10.4 0 1 0 -20.8 0zM1712 929.4a10.4 10.4 0 1 0 20.8 0a10.4 10.4 0 1 0 -20.8 0zM1712.9 929.4a10.4 10.4 0 1 0 20.8 0a10.4 10.4 0 1 0 -20.8 0zM1713.9 929.4a10.4 10.4 0 1 0 20.8 0a10.4 10.4 0 1 0 -20.8 0zM1714.9 929.4a10.4 10.4 0 1 0 20.8 0a10.4 10.4 0 1 0 -20.8 0zM1715.9 929.4a10.4 10.4 0 1 0 20.8 0a10.4 10.4 0 1 0 -20.8 0zM1716.9 929.4a10.4 10.4 0 1 0 20.8 0a10.4 10.4 0 1 0 -20.8 0zM1717.8 929.4a10.4 10.4 0 1 0 20.8 0a10.4 10.4 0 1 0 -20.8 0zM1718.8 929.5a10.4 10.4 0 1 0 20.8 0a10.4 10.4 0 1 0 -20.8 0zM1719.8 929.5a10.4 10.4 0 1 0 20.8 0a10.4 10.4 0 1 0 -20.8 0zM1720.8 929.5a10.4 10.4 0 1 0 20.8 0a10.4 10.4 0 1 0 -20.8 0zM1721.8 929.6a10.4 10.4 0 1 0 20.8 0a10.4 10.4 0 1 0 -20.8 0zM1722.7 929.8a10.4 10.4 0 1 0 20.8 0a10.4 10.4 0 1 0 -20.8 0zM1723.7 930.1a10.4 10.4 0 1 0 20.8 0a10.4 10.4 0 1 0 -20.8 0zM1724.7 930.5a10.4 10.4 0 1 0 20.8 0a10.4 10.4 0 1 0 -20.8 0zM1725.7 930.9a10.4 10.4 0 1 0 20.8 0a10.4 10.4 0 1 0 -20.8 0zM1726.7 931.4a10.4 10.4 0 1 0 20.8 0a10.4 10.4 0 1 0 -20.8 0zM1727.6 931.8a10.4 10.4 0 1 0 20.8 0a10.4 10.4 0 1 0 -20.8 0zM1728.6 932.1a10.4 10.4 0 1 0 20.8 0a10.4 10.4 0 1 0 -20.8 0zM1729.6 932.4a10.4 10.4 0 1 0 20.8 0a10.4 10.4 0 1 0 -20.8 0zM1730.6 932.6a10.4 10.4 0 1 0 20.8 0a10.4 10.4 0 1 0 -20.8 0zM1731.6 932.9a10.4 10.4 0 1 0 20.8 0a10.4 10.4 0 1 0 -20.8 0zM1732.5 933.2a10.4 10.4 0 1 0 20.8 0a10.4 10.4 0 1 0 -20.8 0zM1733.5 933.5a10.4 10.4 0 1 0 20.8 0a10.4 10.4 0 1 0 -20.8 0zM1734.5 933.7a10.4 10.4 0 1 0 20.8 0a10.4 10.4 0 1 0 -20.8 0zM1735.5 933.9a10.4 10.4 0 1 0 20.8 0a10.4 10.4 0 1 0 -20.8 0zM1736.5 934a10.4 10.4 0 1 0 20.8 0a10.4 10.4 0 1 0 -20.8 0zM1737.4 934a10.4 10.4 0 1 0 20.8 0a10.4 10.4 0 1 0 -20.8 0zM1738.4 933.9a10.4 10.4 0 1 0 20.8 0a10.4 10.4 0 1 0 -20.8 0zM1739.4 933.7a10.4 10.4 0 1 0 20.8 0a10.4 10.4 0 1 0 -20.8 0zM1740.4 933.4a10.4 10.4 0 1 0 20.8 0a10.4 10.4 0 1 0 -20.8 0zM1741.4 933a10.4 10.4 0 1 0 20.8 0a10.4 10.4 0 1 0 -20.8 0zM1742.3 932.7a10.4 10.4 0 1 0 20.8 0a10.4 10.4 0 1 0 -20.8 0zM1743.3 932.4a10.4 10.4 0 1 0 20.8 0a10.4 10.4 0 1 0 -20.8 0zM1744.3 932.2a10.4 10.4 0 1 0 20.8 0a10.4 10.4 0 1 0 -20.8 0zM1745.3 932.1a10.4 10.4 0 1 0 20.8 0a10.4 10.4 0 1 0 -20.8 0zM1746.3 932.1a10.4 10.4 0 1 0 20.8 0a10.4 10.4 0 1 0 -20.8 0zM1747.2 932.2a10.4 10.4 0 1 0 20.8 0a10.4 10.4 0 1 0 -20.8 0zM1748.2 932.3a10.4 10.4 0 1 0 20.8 0a10.4 10.4 0 1 0 -20.8 0zM1749.2 932.5a10.4 10.4 0 1 0 20.8 0a10.4 10.4 0 1 0 -20.8 0zM1750.2 932.6a10.4 10.4 0 1 0 20.8 0a10.4 10.4 0 1 0 -20.8 0zM1751.2 932.8a10.4 10.4 0 1 0 20.8 0a10.4 10.4 0 1 0 -20.8 0zM1752.1 932.9a10.4 10.4 0 1 0 20.8 0a10.4 10.4 0 1 0 -20.8 0zM1753.1 933a10.4 10.4 0 1 0 20.8 0a10.4 10.4 0 1 0 -20.8 0zM1754.1 933a10.4 10.4 0 1 0 20.8 0a10.4 10.4 0 1 0 -20.8 0zM1755.1 932.8a10.4 10.4 0 1 0 20.8 0a10.4 10.4 0 1 0 -20.8 0zM1756.1 932.5a10.4 10.4 0 1 0 20.8 0a10.4 10.4 0 1 0 -20.8 0zM1757 932.1a10.4 10.4 0 1 0 20.8 0a10.4 10.4 0 1 0 -20.8 0zM1758 931.7a10.4 10.4 0 1 0 20.8 0a10.4 10.4 0 1 0 -20.8 0zM1759 931.3a10.4 10.4 0 1 0 20.8 0a10.4 10.4 0 1 0 -20.8 0zM1760 931a10.4 10.4 0 1 0 20.8 0a10.4 10.4 0 1 0 -20.8 0zM1761 930.7a10.4 10.4 0 1 0 20.8 0a10.4 10.4 0 1 0 -20.8 0zM1761.9 930.6a10.4 10.4 0 1 0 20.8 0a10.4 10.4 0 1 0 -20.8 0zM1762.9 930.7a10.4 10.4 0 1 0 20.8 0a10.4 10.4 0 1 0 -20.8 0zM1763.9 930.8a10.4 10.4 0 1 0 20.8 0a10.4 10.4 0 1 0 -20.8 0zM1764.9 931.1a10.4 10.4 0 1 0 20.8 0a10.4 10.4 0 1 0 -20.8 0zM1765.9 931.4a10.4 10.4 0 1 0 20.8 0a10.4 10.4 0 1 0 -20.8 0zM1766.8 931.7a10.4 10.4 0 1 0 20.8 0a10.4 10.4 0 1 0 -20.8 0zM1767.8 932.1a10.4 10.4 0 1 0 20.8 0a10.4 10.4 0 1 0 -20.8 0zM1768.8 932.4a10.4 10.4 0 1 0 20.8 0a10.4 10.4 0 1 0 -20.8 0zM1769.8 932.6a10.4 10.4 0 1 0 20.8 0a10.4 10.4 0 1 0 -20.8 0zM1770.8 932.8a10.4 10.4 0 1 0 20.8 0a10.4 10.4 0 1 0 -20.8 0zM1771.7 933a10.4 10.4 0 1 0 20.8 0a10.4 10.4 0 1 0 -20.8 0zM1772.7 933.2a10.4 10.4 0 1 0 20.8 0a10.4 10.4 0 1 0 -20.8 0zM1773.7 933.3a10.4 10.4 0 1 0 20.8 0a10.4 10.4 0 1 0 -20.8 0zM1774.7 933.3a10.4 10.4 0 1 0 20.8 0a10.4 10.4 0 1 0 -20.8 0zM1775.7 933.2a10.4 10.4 0 1 0 20.8 0a10.4 10.4 0 1 0 -20.8 0zM1776.6 933.1a10.4 10.4 0 1 0 20.8 0a10.4 10.4 0 1 0 -20.8 0zM1777.6 932.9a10.4 10.4 0 1 0 20.8 0a10.4 10.4 0 1 0 -20.8 0zM1778.6 932.7a10.4 10.4 0 1 0 20.8 0a10.4 10.4 0 1 0 -20.8 0zM1779.6 932.4a10.4 10.4 0 1 0 20.8 0a10.4 10.4 0 1 0 -20.8 0zM1780.6 932.3a10.4 10.4 0 1 0 20.8 0a10.4 10.4 0 1 0 -20.8 0zM1781.5 932.1a10.4 10.4 0 1 0 20.8 0a10.4 10.4 0 1 0 -20.8 0zM1782.5 932.1a10.4 10.4 0 1 0 20.8 0a10.4 10.4 0 1 0 -20.8 0zM1783.5 932.2a10.4 10.4 0 1 0 20.8 0a10.4 10.4 0 1 0 -20.8 0zM1784.5 932.3a10.4 10.4 0 1 0 20.8 0a10.4 10.4 0 1 0 -20.8 0zM1785.5 932.6a10.4 10.4 0 1 0 20.8 0a10.4 10.4 0 1 0 -20.8 0zM1786.4 932.9a10.4 10.4 0 1 0 20.8 0a10.4 10.4 0 1 0 -20.8 0zM1787.4 933.2a10.4 10.4 0 1 0 20.8 0a10.4 10.4 0 1 0 -20.8 0zM1788.4 933.5a10.4 10.4 0 1 0 20.8 0a10.4 10.4 0 1 0 -20.8 0zM1789.4 933.7a10.4 10.4 0 1 0 20.8 0a10.4 10.4 0 1 0 -20.8 0zM1790.4 933.8a10.4 10.4 0 1 0 20.8 0a10.4 10.4 0 1 0 -20.8 0zM1791.3 933.8a10.4 10.4 0 1 0 20.8 0a10.4 10.4 0 1 0 -20.8 0zM1792.3 933.8a10.4 10.4 0 1 0 20.8 0a10.4 10.4 0 1 0 -20.8 0zM1793.3 933.7a10.4 10.4 0 1 0 20.8 0a10.4 10.4 0 1 0 -20.8 0zM1794.3 933.6a10.4 10.4 0 1 0 20.8 0a10.4 10.4 0 1 0 -20.8 0zM1795.3 933.6a10.4 10.4 0 1 0 20.8 0a10.4 10.4 0 1 0 -20.8 0zM1796.2 933.5a10.4 10.4 0 1 0 20.8 0a10.4 10.4 0 1 0 -20.8 0zM1797.2 933.4a10.4 10.4 0 1 0 20.8 0a10.4 10.4 0 1 0 -20.8 0zM1798.2 933.4a10.4 10.4 0 1 0 20.8 0a10.4 10.4 0 1 0 -20.8 0zM1799.2 933.4a10.4 10.4 0 1 0 20.8 0a10.4 10.4 0 1 0 -20.8 0zM1800.2 933.5a10.4 10.4 0 1 0 20.8 0a10.4 10.4 0 1 0 -20.8 0zM1801.1 933.6a10.4 10.4 0 1 0 20.8 0a10.4 10.4 0 1 0 -20.8 0zM1801.3 933.6a10.4 10.4 0 1 0 20.8 0a10.4 10.4 0 1 0 -20.8 0z"/>
<path fill="#00f" stroke="#00f" stroke-width="0.8" d="M746 97.8l13.5 23.5h-27zM746.5 109.5l13.5 23.5h-27zM749 133.7l13.5 23.5h-27zM749.5 141.6l13.5 23.5h-27zM750.6 158.4l13.5 23.5h-27zM751.5 166.4l13.5 23.5h-27zM753.5 193.4l13.5 23.5h-27zM754.5 204.3l13.5 23.5h-27zM755.5 215.3l13.5 23.5h-27zM756.5 225.4l13.5 23.5h-27zM758.5 243.4l13.5 23.5h-27zM759.5 251.4l13.5 23.5h-27zM760.5 262.4l13.5 23.5h-27zM761.5 273.4l13.5 23.5h-27zM763.5 294.4l13.5 23.5h-27zM764.5 300.4l13.5 23.5h-27zM765.5 308.4l13.5 23.5h-27zM766.5 318.4l13.5 23.5h-27zM768.5 338.4l13.5 23.5h-27zM769.5 348.4l13.5 23.5h-27zM770.4 356.4l13.5 23.5h-27zM771.4 363.6l13.5 23.5h-27zM773.5 384.4l13.5 23.5h-27zM774.5 393.4l13.5 23.5h-27zM775.6 402.2l13.5 23.5h-27zM776.5 409.2l13.5 23.5h-27zM778.6 423.2l13.5 23.5h-27zM779.5 431.2l13.5 23.5h-27zM780 438.2l13.5 23.5h-27zM781.5 444.2l13.5 23.5h-27zM782.6 456.2l13.5 23.5h-27zM784.5 462.2l13.5 23.5h-27zM785.2 468.2l13.5 23.5h-27zM785.5 473.2l13.5 23.5h-27zM788 485.2l13.5 23.5h-27zM788.5 490.2l13.5 23.5h-27zM790.5 497.2l13.5 23.5h-27zM791 502.2l13.5 23.5h-27zM792.5 512.2l13.5 23.5h-27zM794 517.2l13.5 23.5h-27zM794.4 523.2l13.5 23.5h-27zM795.5 529.2l13.5 23.5h-27zM797.4 538.2l13.5 23.5h-27zM798.4 544.2l13.5 23.5h-27zM799.5 549.2l13.5 23.5h-27zM800.4 553.2l13.5 23.5h-27zM801.1 557.3l13.5 23.5h-27zM802 561.2l13.5 23.5h-27zM803 565.1l13.5 23.5h-27zM803.9 569l13.5 23.5h-27zM805.9 576.7l13.5 23.5h-27zM806.8 580.6l13.5 23.5h-27zM807.8 584.4l13.5 23.5h-27zM808.8 588.1l13.5 23.5h-27zM810.8 595.4l13.5 23.5h-27zM811.8 598.9l13.5 23.5h-27zM812.7 602.4l13.5 23.5h-27zM813.7 605.8l13.5 23.5h-27zM815.7 612.3l13.5 23.5h-27zM816.7 615.5l13.5 23.5h-27zM817.7 618.6l13.5 23.5h-27zM818.6 621.7l13.5 23.5h-27zM820.6 627.6l13.5 23.5h-27zM821.6 630.5l13.5 23.5h-27zM822.6 633.3l13.5 23.5h-27zM823.6 636.1l13.5 23.5h-27zM825.5 641.4l13.5 23.5h-27zM826.5 644l13.5 23.5h-27zM827.5 646.5l13.5 23.5h-27zM828.5 649l13.5 23.5h-27zM830.4 653.9l13.5 23.5h-27zM831.4 656.3l13.5 23.5h-27zM832.4 658.6l13.5 23.5h-27zM833.4 660.8l13.5 23.5h-27zM835.4 665.2l13.5 23.5h-27zM836.3 667.4l13.5 23.5h-27zM837.3 669.5l13.5 23.5h-27zM838.3 671.6l13.5 23.5h-27zM840.3 675.6l13.5 23.5h-27zM841.3 677.6l13.5 23.5h-27zM842.2 679.5l13.5 23.5h-27zM843.2 681.4l13.5 23.5h-27zM845.2 685.1l13.5 23.5h-27zM846.2 686.9l13.5 23.5h-27zM847.2 688.6l13.5 23.5h-27zM848.2 690.3l13.5 23.5h-27zM850.1 693.7l13.5 23.5h-27zM851.1 695.3l13.5 23.5h-27zM852.1 696.9l13.5 23.5h-27zM853.1 698.5l13.5 23.5h-27zM855 701.5l13.5 23.5h-27zM856 703l13.5 23.5h-27zM857 704.5l13.5 23.5h-27zM858 705.9l13.5 23.5h-27zM860 708.7l13.5 23.5h-27zM861 710l13.5 23.5h-27zM861.9 711.3l13.5 23.5h-27zM862.9 712.6l13.5 23.5h-27zM864.9 715.2l13.5 23.5h-27zM865.9 716.4l13.5 23.5h-27zM866.9 717.6l13.5 23.5h-27zM867.9 718.8l13.5 23.5h-27zM869.8 721.1l13.5 23.5h-27zM870.8 722.2l13.5 23.5h-27zM871.8 723.3l13.5 23.5h-27zM872.8 724.4l13.5 23.5h-27zM874.8 726.5l13.5 23.5h-27zM875.7 727.5l13.5 23.5h-27zM876.7 728.4l13.5 23.5h-27zM877.7 729.4l13.5 23.5h-27zM879.7 731.3l13.5 23.5h-27zM880.7 732.2l13.5 23.5h-27zM881.7 733.1l13.5 23.5h-27zM882.6 734l13.5 23.5h-27zM884.6 735.7l13.5 23.5h-27zM885.6 736.5l13.5 23.5h-27zM886.6 737.3l13.5 23.5h-27zM887.6 738.1l13.5 23.5h-27zM889.5 739.6l13.5 23.5h-27zM890.5 740.4l13.5 23.5h-27zM891.5 741.1l13.5 23.5h-27zM892.5 741.8l13.5 23.5h-27zM894.5 743.2l13.5 23.5h-27zM895.5 743.8l13.5 23.5h-27zM896.4 744.5l13.5 23.5h-27zM897.4 745.1l13.5 23.5h-27zM899.4 746.3l13.5 23.5h-27zM900.4 746.9l13.5 23.5h-27zM901.4 747.5l13.5 23.5h-27zM902.4 748l13.5 23.5h-27zM904.3 749.1l13.5 23.5h-27zM905.3 749.7l13.5 23.5h-27zM906.3 750.2l13.5 23.5h-27zM907.3 750.7l13.5 23.5h-27zM909.3 751.7l13.5 23.5h-27zM910.3 752.2l13.5 23.5h-27zM911.3 752.6l13.5 23.5h-27zM912.2 753.1l13.5 23.5h-27zM914.2 754l13.5 23.5h-27zM915.2 754.4l13.5 23.5h-27zM916.2 754.9l13.5 23.5h-27zM917.2 755.3l13.5 23.5h-27zM919.1 756.1l13.5 23.5h-27zM920.1 756.5l13.5 23.5h-27zM921.1 756.9l13.5 23.5h-27zM922.1 757.3l13.5 23.5h-27zM924.1 758l13.5 23.5h-27zM925.1 758.4l13.5 23.5h-27zM926.1 758.7l13.5 23.5h-27zM927 759.1l13.5 23.5h-27zM929 759.8l13.5 23.5h-27zM930 760.1l13.5 23.5h-27zM931 760.4l13.5 23.5h-27zM932 760.8l13.5 23.5h-27zM934 761.4l13.5 23.5h-27zM934.9 761.7l13.5 23.5h-27zM935.9 762l13.5 23.5h-27zM936.9 762.3l13.5 23.5h-27zM938.9 762.9l13.5 23.5h-27zM939.9 763.2l13.5 23.5h-27zM940.9 763.5l13.5 23.5h-27zM941.8 763.8l13.5 23.5h-27zM943.8 764.3l13.5 23.5h-27zM944.8 764.6l13.5 23.5h-27zM945.8 764.8l13.5 23.5h-27zM946.8 765.1l13.5 23.5h-27zM948.8 765.6l13.5 23.5h-27zM949.7 765.9l13.5 23.5h-27zM950.7 766.1l13.5 23.5h-27zM951.7 766.3l13.5 23.5h-27zM953.7 766.8l13.5 23.5h-27zM954.7 767.1l13.5 23.5h-27zM955.7 767.3l13.5 23.5h-27zM956.6 767.5l13.5 23.5h-27zM958.6 768l13.5 23.5h-27zM959.6 768.2l13.5 23.5h-27zM960.6 768.4l13.5 23.5h-27zM961.6 768.6l13.5 23.5h-27zM963.6 769l13.5 23.5h-27zM964.6 769.3l13.5 23.5h-27zM965.6 769.5l13.5 23.5h-27zM966.6 769.7l13.5 23.5h-27zM968.5 770.1l13.5 23.5h-27zM969.5 770.2l13.5 23.5h-27zM970.5 770.4l13.5 23.5h-27zM971.5 770.6l13.5 23.5h-27zM973.4 771l13.5 23.5h-27zM974.4 771.2l13.5 23.5h-27zM975.4 771.4l13.5 23.5h-27zM976.4 771.5l13.5 23.5h-27zM978.4 771.9l13.5 23.5h-27zM979.3 772.1l13.5 23.5h-27zM980.3 772.2l13.5 23.5h-27zM981.3 772.4l13.5 23.5h-27zM983.3 772.7l13.5 23.5h-27zM984.3 772.9l13.5 23.5h-27zM985.3 773.1l13.5 23.5h-27zM986.3 773.2l13.5 23.5h-27zM988.2 773.5l13.5 23.5h-27zM989.2 773.7l13.5 23.5h-27zM990.2 773.8l13.5 23.5h-27zM991.2 774l13.5 23.5h-27zM993.2 774.3l13.5 23.5h-27zM994.2 774.5l13.5 23.5h-27zM995.2 774.6l13.5 23.5h-27zM996.2 774.7l13.5 23.5h-27zM998.2 775l13.5 23.5h-27zM999.2 775.2l13.5 23.5h-27zM1000.1 775.3l13.5 23.5h-27zM1001.1 775.5l13.5 23.5h-27zM1003.1 775.7l13.5 23.5h-27zM1004.1 775.9l13.5 23.5h-27zM1005.1 776l13.5 23.5h-27zM1006.1 776.1l13.5 23.5h-27zM1008.1 776.4l13.5 23.5h-27zM1009.1 776.5l13.5 23.5h-27zM1010.1 776.7l13.5 23.5h-27zM1011.1 776.8l13.5 23.5h-27zM1013 777.1l13.5 23.5h-27zM1014 777.2l13.5 23.5h-27zM1015 777.3l13.5 23.5h-27zM1016 777.4l13.5 23.5h-27zM1017.9 777.7l13.5 23.5h-27zM1018.9 777.8l13.5 23.5h-27zM1019.9 777.9l13.5 23.5h-27zM1020.9 778.1l13.5 23.5h-27zM1022.8 778.3l13.5 23.5h-27zM1023.8 778.4l13.5 23.5h-27zM1024.8 778.5l13.5 23.5h-27zM1025.8 778.7l13.5 23.5h-27zM1027.8 778.9l13.5 23.5h-27zM1028.7 779l13.5 23.5h-27zM1029.7 779.2l13.5 23.5h-27zM1030.7 779.3l13.5 23.5h-27zM1032.7 779.5l13.5 23.5h-27zM1033.7 779.7l13.5 23.5h-27zM1034.7 779.8l13.5 23.5h-27zM1035.7 779.9l13.5 23.5h-27zM1037.7 780.2l13.5 23.5h-27zM1038.7 780.3l13.5 23.5h-27zM1039.7 780.4l13.5 23.5h-27zM1040.7 780.5l13.5 23.5h-27zM1042.7 780.8l13.5 23.5h-27zM1043.7 780.9l13.5 23.5h-27zM1044.6 781l13.5 23.5h-27zM1045.6 781.2l13.5 23.5h-27zM1047.6 781.4l13.5 23.5h-27zM1048.6 781.5l13.5 23.5h-27zM1049.6 781.7l13.5 23.5h-27zM1050.6 781.8l13.5 23.5h-27zM1052.6 782l13.5 23.5h-27zM1053.6 782.2l13.5 23.5h-27zM1054.6 782.3l13.5 23.5h-27zM1055.5 782.4l13.5 23.5h-27zM1057.5 782.7l13.5 23.5h-27zM1058.5 782.8l13.5 23.5h-27zM1059.5 782.9l13.5 23.5h-27zM1060.5 783.1l13.5 23.5h-27zM1062.5 783.3l13.5 23.5h-27zM1063.5 783.5l13.5 23.5h-27zM1064.4 783.6l13.5 23.5h-27zM1065.4 783.7l13.5 23.5h-27zM1067.4 784l13.5 23.5h-27zM1068.4 784.1l13.5 23.5h-27zM1069.4 784.2l13.5 23.5h-27zM1070.4 784.4l13.5 23.5h-27zM1072.3 784.6l13.5 23.5h-27zM1073.3 784.8l13.5 23.5h-27zM1074.3 784.9l13.5 23.5h-27zM1075.3 785l13.5 23.5h-27zM1077.3 785.3l13.5 23.5h-27zM1078.3 785.4l13.5 23.5h-27zM1079.2 785.5l13.5 23.5h-27zM1080.2 785.7l13.5 23.5h-27zM1082.2 785.9l13.5 23.5h-27zM1083.2 786.1l13.5 23.5h-27zM1084.2 786.2l13.5 23.5h-27zM1085.2 786.3l13.5 23.5h-27zM1087.1 786.6l13.5 23.5h-27zM1088.1 786.7l13.5 23.5h-27zM1089.1 786.9l13.5 23.5h-27zM1090.1 787l13.5 23.5h-27zM1092.1 787.3l13.5 23.5h-27zM1093 787.4l13.5 23.5h-27zM1094 787.5l13.5 23.5h-27zM1095 787.7l13.5 23.5h-27zM1097 787.9l13.5 23.5h-27zM1098 788l13.5 23.5h-27zM1098.9 788.2l13.5 23.5h-27zM1099.9 788.3l13.5 23.5h-27zM1101.9 788.6l13.5 23.5h-27zM1102.9 788.7l13.5 23.5h-27zM1103.9 788.8l13.5 23.5h-27zM1104.8 789l13.5 23.5h-27zM1106.8 789.2l13.5 23.5h-27zM1107.8 789.4l13.5 23.5h-27zM1108.8 789.5l13.5 23.5h-27zM1109.8 789.6l13.5 23.5h-27zM1111.7 789.9l13.5 23.5h-27zM1112.7 790l13.5 23.5h-27zM1113.7 790.1l13.5 23.5h-27zM1114.7 790.3l13.5 23.5h-27zM1116.6 790.5l13.5 23.5h-27zM1117.6 790.7l13.5 23.5h-27zM1118.6 790.8l13.5 23.5h-27zM1119.6 790.9l13.5 23.5h-27zM1121.6 791.2l13.5 23.5h-27zM1122.5 791.3l13.5 23.5h-27zM1123.5 791.4l13.5 23.5h-27zM1124.5 791.6l13.5 23.5h-27zM1126.5 791.8l13.5 23.5h-27zM1127.5 792l13.5 23.5h-27zM1128.4 792.1l13.5 23.5h-27zM1129.4 792.2l13.5 23.5h-27zM1131.4 792.5l13.5 23.5h-27zM1132.4 792.6l13.5 23.5h-27zM1133.3 792.7l13.5 23.5h-27zM1134.3 792.9l13.5 23.5h-27zM1136.3 793.1l13.5 23.5h-27zM1137.3 793.2l13.5 23.5h-27zM1138.3 793.4l13.5 23.5h-27zM1139.2 793.5l13.5 23.5h-27zM1141.2 793.7l13.5 23.5h-27zM1142.2 793.9l13.5 23.5h-27zM1143.2 794l13.5 23.5h-27zM1144.2 794.1l13.5 23.5h-27zM1146.1 794.4l13.5 23.5h-27zM1147.1 794.5l13.5 23.5h-27zM1148.1 794.6l13.5 23.5h-27zM1149.1 794.7l13.5 23.5h-27zM1151 795l13.5 23.5h-27zM1152 795.1l13.5 23.5h-27zM1153 795.2l13.5 23.5h-27zM1154 795.4l13.5 23.5h-27zM1156 795.6l13.5 23.5h-27zM1156.9 795.7l13.5 23.5h-27zM1157.9 795.8l13.5 23.5h-27zM1158.9 796l13.5 23.5h-27zM1160.9 796.2l13.5 23.5h-27zM1161.9 796.3l13.5 23.5h-27zM1162.8 796.4l13.5 23.5h-27zM1163.8 796.6l13.5 23.5h-27zM1165.8 796.8l13.5 23.5h-27zM1166.8 796.9l13.5 23.5h-27zM1167.8 797l13.5 23.5h-27zM1168.7 797.2l13.5 23.5h-27zM1170.7 797.4l13.5 23.5h-27zM1171.7 797.5l13.5 23.5h-27zM1172.7 797.6l13.5 23.5h-27zM1173.7 797.7l13.5 23.5h-27zM1175.6 798l13.5 23.5h-27zM1176.6 798.1l13.5 23.5h-27zM1177.6 798.2l13.5 23.5h-27zM1178.6 798.3l13.5 23.5h-27zM1180.6 798.5l13.5 23.5h-27zM1181.5 798.6l13.5 23.5h-27zM1182.5 798.7l13.5 23.5h-27zM1183.5 798.9l13.5 23.5h-27zM1185.5 799.1l13.5 23.5h-27zM1186.5 799.2l13.5 23.5h-27zM1187.5 799.3l13.5 23.5h-27zM1188.5 799.4l13.5 23.5h-27zM1190.4 799.6l13.5 23.5h-27zM1191.4 799.7l13.5 23.5h-27zM1192.4 799.8l13.5 23.5h-27zM1193.4 799.9l13.5 23.5h-27zM1195.4 800.2l13.5 23.5h-27zM1196.3 800.3l13.5 23.5h-27zM1197.3 800.4l13.5 23.5h-27zM1198.3 800.5l13.5 23.5h-27zM1200.3 800.7l13.5 23.5h-27zM1201.3 800.8l13.5 23.5h-27zM1202.3 800.9l13.5 23.5h-27zM1203.3 801l13.5 23.5h-27zM1205.2 801.2l13.5 23.5h-27zM1206.2 801.3l13.5 23.5h-27zM1207.2 801.4l13.5 23.5h-27zM1208.2 801.5l13.5 23.5h-27zM1210.2 801.7l13.5 23.5h-27zM1211.2 801.8l13.5 23.5h-27zM1212.2 801.9l13.5 23.5h-27zM1213.2 801.9l13.5 23.5h-27zM1215.2 802.1l13.5 23.5h-27zM1216.1 802.2l13.5 23.5h-27zM1217.1 802.3l13.5 23.5h-27zM1218.1 802.4l13.5 23.5h-27zM1220.1 802.6l13.5 23.5h-27zM1221.1 802.7l13.5 23.5h-27zM1222.1 802.8l13.5 23.5h-27zM1223.1 802.9l13.5 23.5h-27zM1225.1 803l13.5 23.5h-27zM1226.1 803.1l13.5 23.5h-27zM1227.1 803.2l13.5 23.5h-27zM1228.1 803.3l13.5 23.5h-27zM1230 803.5l13.5 23.5h-27zM1231 803.6l13.5 23.5h-27zM1232 803.6l13.5 23.5h-27zM1233 803.7l13.5 23.5h-27zM1235 803.9l13.5 23.5h-27zM1236 804l13.5 23.5h-27zM1236.9 804l13.5 23.5h-27zM1237.9 804.1l13.5 23.5h-27zM1239.9 804.3l13.5 23.5h-27zM1240.9 804.3l13.5 23.5h-27zM1241.8 804.4l13.5 23.5h-27zM1242.8 804.5l13.5 23.5h-27zM1244.8 804.6l13.5 23.5h-27zM1245.8 804.7l13.5 23.5h-27zM1246.8 804.8l13.5 23.5h-27zM1247.7 804.8l13.5 23.5h-27zM1249.7 805l13.5 23.5h-27zM1250.7 805l13.5 23.5h-27zM1251.7 805.1l13.5 23.5h-27zM1252.7 805.2l13.5 23.5h-27zM1254.6 805.3l13.5 23.5h-27zM1255.6 805.4l13.5 23.5h-27zM1256.6 805.4l13.5 23.5h-27zM1257.6 805.5l13.5 23.5h-27zM1259.6 805.6l13.5 23.5h-27zM1260.6 805.7l13.5 23.5h-27zM1261.6 805.7l13.5 23.5h-27zM1262.5 805.8l13.5 23.5h-27zM1264.5 805.9l13.5 23.5h-27zM1265.5 806l13.5 23.5h-27zM1266.5 806l13.5 23.5h-27zM1267.5 806.1l13.5 23.5h-27zM1269.5 806.2l13.5 23.5h-27zM1270.5 806.2l13.5 23.5h-27zM1271.5 806.3l13.5 23.5h-27zM1272.4 806.3l13.5 23.5h-27zM1273.5 806.4l13.5 23.5h-27z"/>
<path fill="#008080" stroke="#008080" stroke-width="0.8" d="M342.7 381.6l13.5 -23.5h-27zM345.2 393.4l13.5 -23.5h-27zM346.2 398.1l13.5 -23.5h-27zM347.7 404.6l13.5 -23.5h-27zM347.9 410.9l13.5 -23.5h-27zM349.6 415.9l13.5 -23.5h-27zM351 427.8l13.5 -23.5h-27zM352.6 432.8l13.5 -23.5h-27zM353.6 438.9l13.5 -23.5h-27zM353.8 444.2l13.5 -23.5h-27zM355.6 450.9l13.5 -23.5h-27zM356.5 462.6l13.5 -23.5h-27zM358.5 467.6l13.5 -23.5h-27zM358.7 473.1l13.5 -23.5h-27zM360.5 477.6l13.5 -23.5h-27zM361.8 486.2l13.5 -23.5h-27zM362.5 491.1l13.5 -23.5h-27zM363.5 495.4l13.5 -23.5h-27zM364.5 499.4l13.5 -23.5h-27zM366.4 503.6l13.5 -23.5h-27zM367.8 512.6l13.5 -23.5h-27zM369.4 516.8l13.5 -23.5h-27zM370.4 521.6l13.5 -23.5h-27zM370.6 526.6l13.5 -23.5h-27zM372.4 532.4l13.5 -23.5h-27zM374.3 536.5l13.5 -23.5h-27zM375.3 541.5l13.5 -23.5h-27zM376.3 544.8l13.5 -23.5h-27zM377.3 548l13.5 -23.5h-27zM380.3 553l13.5 -23.5h-27zM381.3 558l13.5 -23.5h-27zM382.2 560.5l13.5 -23.5h-27zM383.2 563l13.5 -23.5h-27zM384.2 565.7l13.5 -23.5h-27zM385.2 568.5l13.5 -23.5h-27zM387.1 574.3l13.5 -23.5h-27zM388.1 577.3l13.5 -23.5h-27zM389.1 580.3l13.5 -23.5h-27zM390.1 583.3l13.5 -23.5h-27zM392.1 589.2l13.5 -23.5h-27zM393 591.9l13.5 -23.5h-27zM394 594.6l13.5 -23.5h-27zM395 597.2l13.5 -23.5h-27zM397 602l13.5 -23.5h-27zM397.9 604.2l13.5 -23.5h-27zM398.9 606.3l13.5 -23.5h-27zM399.9 608.3l13.5 -23.5h-27zM401.9 612.1l13.5 -23.5h-27zM402.9 613.8l13.5 -23.5h-27zM403.9 615.4l13.5 -23.5h-27zM404.8 616.9l13.5 -23.5h-27zM406.8 619.8l13.5 -23.5h-27zM407.8 621.1l13.5 -23.5h-27zM408.8 622.4l13.5 -23.5h-27zM409.8 623.7l13.5 -23.5h-27zM411.7 626l13.5 -23.5h-27zM412.7 627.2l13.5 -23.5h-27zM413.7 628.3l13.5 -23.5h-27zM414.7 629.4l13.5 -23.5h-27zM416.7 631.4l13.5 -23.5h-27zM417.7 632.4l13.5 -23.5h-27zM418.6 633.4l13.5 -23.5h-27zM419.6 634.3l13.5 -23.5h-27zM421.6 636.2l13.5 -23.5h-27zM422.6 637.1l13.5 -23.5h-27zM423.6 638l13.5 -23.5h-27zM424.6 638.8l13.5 -23.5h-27zM426.5 640.5l13.5 -23.5h-27zM427.5 641.3l13.5 -23.5h-27zM428.5 642.1l13.5 -23.5h-27zM429.5 642.9l13.5 -23.5h-27zM431.5 644.5l13.5 -23.5h-27zM432.5 645.3l13.5 -23.5h-27zM433.4 646l13.5 -23.5h-27zM434.4 646.8l13.5 -23.5h-27zM436.4 648.2l13.5 -23.5h-27zM437.4 649l13.5 -23.5h-27zM438.4 649.7l13.5 -23.5h-27zM439.4 650.4l13.5 -23.5h-27zM441.4 651.8l13.5 -23.5h-27zM442.3 652.4l13.5 -23.5h-27zM443.3 653.1l13.5 -23.5h-27zM444.3 653.8l13.5 -23.5h-27zM446.3 655.1l13.5 -23.5h-27zM447.3 655.7l13.5 -23.5h-27zM448.3 656.4l13.5 -23.5h-27zM449.2 657l13.5 -23.5h-27zM451.2 658.2l13.5 -23.5h-27zM452.2 658.8l13.5 -23.5h-27zM453.2 659.4l13.5 -23.5h-27zM454.2 660l13.5 -23.5h-27zM456.2 661.2l13.5 -23.5h-27zM457.1 661.8l13.5 -23.5h-27zM458.1 662.3l13.5 -23.5h-27zM459.1 662.9l13.5 -23.5h-27zM461.1 664l13.5 -23.5h-27zM462.1 664.6l13.5 -23.5h-27zM463.1 665.1l13.5 -23.5h-27zM464.1 665.7l13.5 -23.5h-27zM466 666.7l13.5 -23.5h-27zM467 667.2l13.5 -23.5h-27zM468 667.7l13.5 -23.5h-27zM469 668.3l13.5 -23.5h-27zM471 669.3l13.5 -23.5h-27zM472 669.8l13.5 -23.5h-27zM473 670.3l13.5 -23.5h-27zM473.9 670.7l13.5 -23.5h-27zM475.9 671.7l13.5 -23.5h-27zM476.9 672.2l13.5 -23.5h-27zM477.9 672.7l13.5 -23.5h-27zM478.9 673.1l13.5 -23.5h-27zM480.9 674l13.5 -23.5h-27zM481.9 674.5l13.5 -23.5h-27zM482.8 674.9l13.5 -23.5h-27zM483.8 675.4l13.5 -23.5h-27zM485.8 676.3l13.5 -23.5h-27zM486.8 676.7l13.5 -23.5h-27zM487.8 677.1l13.5 -23.5h-27zM488.8 677.6l13.5 -23.5h-27zM490.8 678.4l13.5 -23.5h-27zM491.7 678.8l13.5 -23.5h-27zM492.7 679.3l13.5 -23.5h-27zM493.7 679.7l13.5 -23.5h-27zM495.7 680.5l13.5 -23.5h-27zM496.7 680.9l13.5 -23.5h-27zM497.7 681.3l13.5 -23.5h-27zM498.7 681.7l13.5 -23.5h-27zM500.7 682.5l13.5 -23.5h-27zM501.6 682.9l13.5 -23.5h-27zM502.6 683.3l13.5 -23.5h-27zM503.6 683.7l13.5 -23.5h-27zM505.6 684.4l13.5 -23.5h-27zM506.6 684.8l13.5 -23.5h-27zM507.5 685.2l13.5 -23.5h-27zM508.5 685.5l13.5 -23.5h-27zM510.5 686.3l13.5 -23.5h-27zM511.5 686.6l13.5 -23.5h-27zM512.5 687l13.5 -23.5h-27zM513.5 687.4l13.5 -23.5h-27zM515.5 688.1l13.5 -23.5h-27zM516.5 688.5l13.5 -23.5h-27zM517.5 688.8l13.5 -23.5h-27zM518.5 689.2l13.5 -23.5h-27zM520.4 689.9l13.5 -23.5h-27zM521.4 690.2l13.5 -23.5h-27zM522.4 690.5l13.5 -23.5h-27zM523.4 690.9l13.5 -23.5h-27zM525.3 691.6l13.5 -23.5h-27zM526.3 691.9l13.5 -23.5h-27zM527.3 692.2l13.5 -23.5h-27zM528.3 692.6l13.5 -23.5h-27zM530.3 693.3l13.5 -23.5h-27zM531.3 693.6l13.5 -23.5h-27zM532.3 693.9l13.5 -23.5h-27zM533.3 694.3l13.5 -23.5h-27zM535.2 694.9l13.5 -23.5h-27zM536.2 695.2l13.5 -23.5h-27zM537.2 695.6l13.5 -23.5h-27zM538.2 695.9l13.5 -23.5h-27zM540.2 696.5l13.5 -23.5h-27zM541.2 696.9l13.5 -23.5h-27zM542.2 697.2l13.5 -23.5h-27zM543.2 697.5l13.5 -23.5h-27zM545.2 698.2l13.5 -23.5h-27zM546.2 698.5l13.5 -23.5h-27zM547.2 698.8l13.5 -23.5h-27zM548.2 699.1l13.5 -23.5h-27zM550.2 699.8l13.5 -23.5h-27zM551.2 700.1l13.5 -23.5h-27zM552.2 700.4l13.5 -23.5h-27zM553.1 700.7l13.5 -23.5h-27zM555.1 701.3l13.5 -23.5h-27zM556.1 701.6l13.5 -23.5h-27zM557.1 702l13.5 -23.5h-27zM558 702.3l13.5 -23.5h-27zM560 702.9l13.5 -23.5h-27zM561 703.2l13.5 -23.5h-27zM562 703.5l13.5 -23.5h-27zM562.9 703.8l13.5 -23.5h-27zM564.9 704.4l13.5 -23.5h-27zM565.9 704.8l13.5 -23.5h-27zM566.9 705.1l13.5 -23.5h-27zM567.8 705.4l13.5 -23.5h-27zM569.8 706l13.5 -23.5h-27zM570.8 706.3l13.5 -23.5h-27zM571.8 706.6l13.5 -23.5h-27zM572.7 706.9l13.5 -23.5h-27zM574.7 707.6l13.5 -23.5h-27zM575.7 707.9l13.5 -23.5h-27zM576.7 708.2l13.5 -23.5h-27zM577.7 708.5l13.5 -23.5h-27zM579.7 709.2l13.5 -23.5h-27zM580.7 709.5l13.5 -23.5h-27zM581.7 709.8l13.5 -23.5h-27zM582.7 710.1l13.5 -23.5h-27zM584.7 710.8l13.5 -23.5h-27zM585.7 711.1l13.5 -23.5h-27zM586.7 711.4l13.5 -23.5h-27zM587.7 711.7l13.5 -23.5h-27zM589.7 712.4l13.5 -23.5h-27zM590.7 712.7l13.5 -23.5h-27zM591.7 713l13.5 -23.5h-27zM592.7 713.3l13.5 -23.5h-27zM594.7 714l13.5 -23.5h-27zM595.7 714.3l13.5 -23.5h-27zM596.7 714.6l13.5 -23.5h-27zM597.6 714.9l13.5 -23.5h-27zM599.6 715.6l13.5 -23.5h-27zM600.6 715.9l13.5 -23.5h-27zM601.6 716.2l13.5 -23.5h-27zM602.6 716.6l13.5 -23.5h-27zM604.6 717.2l13.5 -23.5h-27zM605.6 717.5l13.5 -23.5h-27zM606.6 717.9l13.5 -23.5h-27zM607.6 718.2l13.5 -23.5h-27zM609.6 718.8l13.5 -23.5h-27zM610.6 719.2l13.5 -23.5h-27zM611.6 719.5l13.5 -23.5h-27zM612.6 719.8l13.5 -23.5h-27zM614.5 720.5l13.5 -23.5h-27zM615.5 720.8l13.5 -23.5h-27zM616.5 721.1l13.5 -23.5h-27zM617.5 721.4l13.5 -23.5h-27zM619.5 722.1l13.5 -23.5h-27zM620.5 722.4l13.5 -23.5h-27zM621.5 722.7l13.5 -23.5h-27zM622.5 723.1l13.5 -23.5h-27zM624.5 723.7l13.5 -23.5h-27zM625.5 724l13.5 -23.5h-27zM626.4 724.4l13.5 -23.5h-27zM627.4 724.7l13.5 -23.5h-27zM629.4 725.3l13.5 -23.5h-27zM630.4 725.7l13.5 -23.5h-27zM631.4 726l13.5 -23.5h-27zM632.4 726.3l13.5 -23.5h-27zM634.4 727l13.5 -23.5h-27zM635.4 727.3l13.5 -23.5h-27zM636.4 727.6l13.5 -23.5h-27zM637.3 727.9l13.5 -23.5h-27zM639.3 728.6l13.5 -23.5h-27zM640.3 728.9l13.5 -23.5h-27zM641.3 729.3l13.5 -23.5h-27zM642.3 729.6l13.5 -23.5h-27zM644.3 730.2l13.5 -23.5h-27zM645.3 730.6l13.5 -23.5h-27zM646.3 730.9l13.5 -23.5h-27zM647.3 731.2l13.5 -23.5h-27zM649.2 731.9l13.5 -23.5h-27zM650.2 732.2l13.5 -23.5h-27zM651.2 732.5l13.5 -23.5h-27zM652.2 732.8l13.5 -23.5h-27zM654.2 733.5l13.5 -23.5h-27zM655.2 733.8l13.5 -23.5h-27zM656.2 734.2l13.5 -23.5h-27zM657.2 734.5l13.5 -23.5h-27zM659.1 735.1l13.5 -23.5h-27zM660.1 735.5l13.5 -23.5h-27zM661.1 735.8l13.5 -23.5h-27zM662.1 736.1l13.5 -23.5h-27zM664.1 736.8l13.5 -23.5h-27zM665.1 737.1l13.5 -23.5h-27zM666.1 737.4l13.5 -23.5h-27zM667.1 737.7l13.5 -23.5h-27zM669 738.4l13.5 -23.5h-27zM670 738.7l13.5 -23.5h-27zM671 739l13.5 -23.5h-27zM672 739.4l13.5 -23.5h-27zM674 740l13.5 -23.5h-27zM675 740.3l13.5 -23.5h-27zM676 740.7l13.5 -23.5h-27zM676.9 741l13.5 -23.5h-27zM678.9 741.6l13.5 -23.5h-27zM679.9 742l13.5 -23.5h-27zM680.9 742.3l13.5 -23.5h-27zM681.9 742.6l13.5 -23.5h-27zM683.9 743.3l13.5 -23.5h-27zM684.9 743.6l13.5 -23.5h-27zM685.8 743.9l13.5 -23.5h-27zM686.8 744.2l13.5 -23.5h-27zM688.8 744.9l13.5 -23.5h-27zM689.8 745.2l13.5 -23.5h-27zM690.8 745.5l13.5 -23.5h-27zM691.8 745.9l13.5 -23.5h-27zM693.8 746.5l13.5 -23.5h-27zM694.7 746.8l13.5 -23.5h-27zM695.7 747.2l13.5 -23.5h-27zM696.7 747.5l13.5 -23.5h-27zM698.7 748.1l13.5 -23.5h-27zM699.7 748.4l13.5 -23.5h-27zM700.7 748.8l13.5 -23.5h-27zM701.7 749.1l13.5 -23.5h-27zM703.7 749.7l13.5 -23.5h-27zM704.6 750.1l13.5 -23.5h-27zM705.6 750.4l13.5 -23.5h-27zM706.6 750.7l13.5 -23.5h-27zM708.6 751.3l13.5 -23.5h-27zM709.6 751.7l13.5 -23.5h-27zM710.6 752l13.5 -23.5h-27zM711.6 752.3l13.5 -23.5h-27zM713.5 752.9l13.5 -23.5h-27zM714.5 753.3l13.5 -23.5h-27zM715.5 753.6l13.5 -23.5h-27zM716.5 753.9l13.5 -23.5h-27zM718.5 754.5l13.5 -23.5h-27zM719.5 754.9l13.5 -23.5h-27zM720.5 755.2l13.5 -23.5h-27zM721.5 755.5l13.5 -23.5h-27zM723.4 756.1l13.5 -23.5h-27zM724.4 756.4l13.5 -23.5h-27zM725.4 756.8l13.5 -23.5h-27zM726.4 757.1l13.5 -23.5h-27zM728.4 757.7l13.5 -23.5h-27zM729.4 758l13.5 -23.5h-27zM730.4 758.3l13.5 -23.5h-27zM731.4 758.7l13.5 -23.5h-27zM733.3 759.3l13.5 -23.5h-27zM734.3 759.6l13.5 -23.5h-27zM735.3 759.9l13.5 -23.5h-27zM736.3 760.2l13.5 -23.5h-27zM738.3 760.9l13.5 -23.5h-27zM739.3 761.2l13.5 -23.5h-27zM740.3 761.5l13.5 -23.5h-27zM741.3 761.8l13.5 -23.5h-27zM743.2 762.4l13.5 -23.5h-27zM744.2 762.7l13.5 -23.5h-27zM745.2 763l13.5 -23.5h-27zM746.2 763.4l13.5 -23.5h-27zM748.2 764l13.5 -23.5h-27zM749.2 764.3l13.5 -23.5h-27zM750.2 764.6l13.5 -23.5h-27zM751.2 764.9l13.5 -23.5h-27zM753.1 765.5l13.5 -23.5h-27zM754.1 765.8l13.5 -23.5h-27zM755.1 766.1l13.5 -23.5h-27zM756.1 766.5l13.5 -23.5h-27zM758.1 767.1l13.5 -23.5h-27zM759.1 767.4l13.5 -23.5h-27zM760.1 767.7l13.5 -23.5h-27zM761.1 768l13.5 -23.5h-27zM763.1 768.6l13.5 -23.5h-27zM764 768.9l13.5 -23.5h-27zM765 769.2l13.5 -23.5h-27zM766 769.5l13.5 -23.5h-27zM768 770.1l13.5 -23.5h-27zM769 770.4l13.5 -23.5h-27zM770 770.7l13.5 -23.5h-27zM771 771l13.5 -23.5h-27zM773 771.6l13.5 -23.5h-27zM774 771.9l13.5 -23.5h-27zM775 772.2l13.5 -23.5h-27zM775.9 772.5l13.5 -23.5h-27zM777.9 773.2l13.5 -23.5h-27zM778.9 773.5l13.5 -23.5h-27zM779.9 773.8l13.5 -23.5h-27zM780.9 774l13.5 -23.5h-27zM782.9 774.6l13.5 -23.5h-27zM783.9 774.9l13.5 -23.5h-27zM784.9 775.2l13.5 -23.5h-27zM785.9 775.5l13.5 -23.5h-27zM787.9 776.1l13.5 -23.5h-27zM788.9 776.4l13.5 -23.5h-27zM789.9 776.7l13.5 -23.5h-27zM790.8 777l13.5 -23.5h-27zM792.8 777.6l13.5 -23.5h-27zM793.8 777.9l13.5 -23.5h-27zM794.8 778.2l13.5 -23.5h-27zM795.8 778.5l13.5 -23.5h-27zM797.8 779.1l13.5 -23.5h-27zM798.8 779.4l13.5 -23.5h-27zM799.8 779.7l13.5 -23.5h-27zM800.8 779.9l13.5 -23.5h-27zM802.8 780.5l13.5 -23.5h-27zM803.8 780.8l13.5 -23.5h-27zM804.8 781.1l13.5 -23.5h-27zM805.8 781.4l13.5 -23.5h-27zM807.8 782l13.5 -23.5h-27zM808.8 782.2l13.5 -23.5h-27zM809.8 782.5l13.5 -23.5h-27zM810.8 782.8l13.5 -23.5h-27zM812.7 783.4l13.5 -23.5h-27zM813.7 783.7l13.5 -23.5h-27zM814.7 784l13.5 -23.5h-27zM815.7 784.2l13.5 -23.5h-27zM817.7 784.8l13.5 -23.5h-27zM818.7 785.1l13.5 -23.5h-27zM819.7 785.4l13.5 -23.5h-27zM820.7 785.6l13.5 -23.5h-27zM822.7 786.2l13.5 -23.5h-27zM823.6 786.5l13.5 -23.5h-27zM824.6 786.7l13.5 -23.5h-27zM825.6 787l13.5 -23.5h-27zM827.6 787.6l13.5 -23.5h-27zM828.5 787.8l13.5 -23.5h-27zM829.5 788.1l13.5 -23.5h-27zM830.5 788.4l13.5 -23.5h-27zM832.5 788.9l13.5 -23.5h-27zM833.4 789.2l13.5 -23.5h-27zM834.4 789.4l13.5 -23.5h-27zM835.4 789.7l13.5 -23.5h-27zM837.4 790.2l13.5 -23.5h-27zM838.4 790.5l13.5 -23.5h-27zM839.3 790.8l13.5 -23.5h-27zM840.3 791l13.5 -23.5h-27zM842.3 791.6l13.5 -23.5h-27zM843.3 791.8l13.5 -23.5h-27zM844.3 792.1l13.5 -23.5h-27zM845.2 792.4l13.5 -23.5h-27zM847.2 792.9l13.5 -23.5h-27zM848.2 793.1l13.5 -23.5h-27zM849.2 793.4l13.5 -23.5h-27zM850.2 793.7l13.5 -23.5h-27zM852.1 794.2l13.5 -23.5h-27zM853.1 794.4l13.5 -23.5h-27zM854.1 794.7l13.5 -23.5h-27zM855.1 794.9l13.5 -23.5h-27zM857.1 795.5l13.5 -23.5h-27zM858 795.7l13.5 -23.5h-27zM859 796l13.5 -23.5h-27zM860 796.2l13.5 -23.5h-27zM862 796.7l13.5 -23.5h-27zM863 797l13.5 -23.5h-27zM864 797.2l13.5 -23.5h-27zM865 797.5l13.5 -23.5h-27zM866.9 798l13.5 -23.5h-27zM867.9 798.2l13.5 -23.5h-27zM868.9 798.5l13.5 -23.5h-27zM869.9 798.7l13.5 -23.5h-27zM871.9 799.2l13.5 -23.5h-27zM872.9 799.4l13.5 -23.5h-27zM873.9 799.7l13.5 -23.5h-27zM874.8 799.9l13.5 -23.5h-27zM876.8 800.4l13.5 -23.5h-27zM877.8 800.7l13.5 -23.5h-27zM878.8 800.9l13.5 -23.5h-27zM879.8 801.1l13.5 -23.5h-27zM881.8 801.6l13.5 -23.5h-27zM882.8 801.8l13.5 -23.5h-27zM883.8 802.1l13.5 -23.5h-27zM884.7 802.3l13.5 -23.5h-27zM886.7 802.8l13.5 -23.5h-27zM887.7 803l13.5 -23.5h-27zM888.7 803.3l13.5 -23.5h-27zM889.7 803.5l13.5 -23.5h-27zM891.7 804l13.5 -23.5h-27zM892.7 804.2l13.5 -23.5h-27zM893.7 804.4l13.5 -23.5h-27zM894.7 804.6l13.5 -23.5h-27zM896.7 805.1l13.5 -23.5h-27zM897.6 805.3l13.5 -23.5h-27zM898.6 805.6l13.5 -23.5h-27zM899.6 805.8l13.5 -23.5h-27zM901.6 806.2l13.5 -23.5h-27zM902.6 806.5l13.5 -23.5h-27zM903.6 806.7l13.5 -23.5h-27zM904.6 806.9l13.5 -23.5h-27zM906.6 807.3l13.5 -23.5h-27zM907.6 807.6l13.5 -23.5h-27zM908.6 807.8l13.5 -23.5h-27zM909.6 808l13.5 -23.5h-27zM911.6 808.4l13.5 -23.5h-27zM912.6 808.6l13.5 -23.5h-27zM913.6 808.9l13.5 -23.5h-27zM914.6 809.1l13.5 -23.5h-27zM916.5 809.5l13.5 -23.5h-27zM917.5 809.7l13.5 -23.5h-27zM918.5 809.9l13.5 -23.5h-27zM919.5 810.1l13.5 -23.5h-27zM921.4 810.5l13.5 -23.5h-27zM922.4 810.7l13.5 -23.5h-27zM923.4 810.9l13.5 -23.5h-27zM924.4 811.1l13.5 -23.5h-27zM926.4 811.5l13.5 -23.5h-27zM927.3 811.7l13.5 -23.5h-27zM928.3 811.9l13.5 -23.5h-27zM929.3 812.1l13.5 -23.5h-27zM931.3 812.5l13.5 -23.5h-27zM932.3 812.7l13.5 -23.5h-27zM933.2 812.9l13.5 -23.5h-27zM934.2 813.1l13.5 -23.5h-27zM936.2 813.5l13.5 -23.5h-27zM937.2 813.7l13.5 -23.5h-27zM938.2 813.9l13.5 -23.5h-27zM939.2 814.1l13.5 -23.5h-27zM941.1 814.5l13.5 -23.5h-27zM942.1 814.7l13.5 -23.5h-27zM943.1 814.8l13.5 -23.5h-27zM944.1 815l13.5 -23.5h-27zM946.1 815.4l13.5 -23.5h-27zM947 815.6l13.5 -23.5h-27zM948 815.8l13.5 -23.5h-27zM949 815.9l13.5 -23.5h-27zM951 816.3l13.5 -23.5h-27zM952 816.5l13.5 -23.5h-27zM953 816.7l13.5 -23.5h-27zM954 816.8l13.5 -23.5h-27zM956 817.2l13.5 -23.5h-27zM956.9 817.4l13.5 -23.5h-27zM957.9 817.6l13.5 -23.5h-27zM958.9 817.7l13.5 -23.5h-27zM960.9 818.1l13.5 -23.5h-27zM961.9 818.2l13.5 -23.5h-27zM962.9 818.4l13.5 -23.5h-27zM963.9 818.6l13.5 -23.5h-27zM965.9 818.9l13.5 -23.5h-27zM966.9 819.1l13.5 -23.5h-27zM967.9 819.2l13.5 -23.5h-27zM968.8 819.4l13.5 -23.5h-27zM970.8 819.7l13.5 -23.5h-27zM971.8 819.9l13.5 -23.5h-27zM972.8 820.1l13.5 -23.5h-27zM973.8 820.2l13.5 -23.5h-27zM975.8 820.5l13.5 -23.5h-27zM976.8 820.7l13.5 -23.5h-27zM977.8 820.9l13.5 -23.5h-27zM978.8 821l13.5 -23.5h-27zM980.8 821.3l13.5 -23.5h-27zM981.8 821.5l13.5 -23.5h-27zM982.8 821.6l13.5 -23.5h-27zM983.8 821.8l13.5 -23.5h-27zM985.8 822.1l13.5 -23.5h-27zM986.7 822.2l13.5 -23.5h-27zM987.7 822.4l13.5 -23.5h-27zM988.7 822.5l13.5 -23.5h-27zM990.7 822.8l13.5 -23.5h-27zM991.6 822.9l13.5 -23.5h-27zM992.6 823.1l13.5 -23.5h-27zM993.6 823.2l13.5 -23.5h-27zM995.6 823.5l13.5 -23.5h-27zM996.6 823.6l13.5 -23.5h-27zM997.5 823.8l13.5 -23.5h-27zM998.5 823.9l13.5 -23.5h-27zM1000.5 824.2l13.5 -23.5h-27zM1001.5 824.3l13.5 -23.5h-27zM1002.5 824.4l13.5 -23.5h-27zM1003.5 824.5l13.5 -23.5h-27zM1005.4 824.8l13.5 -23.5h-27zM1006.4 824.9l13.5 -23.5h-27zM1007.4 825.1l13.5 -23.5h-27zM1008.4 825.2l13.5 -23.5h-27zM1010.4 825.4l13.5 -23.5h-27zM1011.3 825.5l13.5 -23.5h-27zM1012.3 825.7l13.5 -23.5h-27zM1013.3 825.8l13.5 -23.5h-27zM1015.3 826l13.5 -23.5h-27zM1016.3 826.1l13.5 -23.5h-27zM1017.3 826.3l13.5 -23.5h-27zM1018.3 826.4l13.5 -23.5h-27zM1020.3 826.6l13.5 -23.5h-27zM1021.2 826.7l13.5 -23.5h-27zM1022.2 826.8l13.5 -23.5h-27zM1023.2 826.9l13.5 -23.5h-27zM1025.2 827.1l13.5 -23.5h-27zM1026.2 827.3l13.5 -23.5h-27zM1027.2 827.4l13.5 -23.5h-27zM1028.2 827.5l13.5 -23.5h-27z"/>
<g fill="#000">
<rect x="243" y="34" width="6" height="958"/>
<rect x="245" y="31" width="1616" height="6"/>
<rect x="1858" y="34" width="5" height="958"/>
<rect x="223" y="989" width="1638" height="5"/>
<rect x="234" y="934.03" width="10" height="5.5"/>
<rect x="223" y="879.31" width="21" height="5.5"/>
<rect x="234" y="824.59" width="10" height="5.5"/>
<rect x="223" y="769.87" width="21" height="5.5"/>
<rect x="234" y="715.15" width="10" height="5.5"/>
<rect x="223" y="660.43" width="21" height="5.5"/>
<rect x="234" y="605.71" width="10" height="5.5"/>
<rect x="223" y="550.99" width="21" height="5.5"/>
<rect x="234" y="496.27" width="10" height="5.5"/>
<rect x="223" y="441.55" width="21" height="5.5"/>
<rect x="234" y="386.83" width="10" height="5.5"/>
<rect x="223" y="332.11" width="21" height="5.5"/>
<rect x="234" y="277.39" width="10" height="5.5"/>
<rect x="223" y="222.67" width="21" height="5.5"/>
<rect x="234" y="167.95" width="10" height="5.5"/>
<rect x="223" y="113.23" width="21" height="5.5"/>
<rect x="234" y="58.51" width="10" height="5.5"/>
<rect x="341.00" y="993" width="6" height="22"/>
<rect x="463.83" y="993" width="5" height="11"/>
<rect x="585.67" y="993" width="6" height="22"/>
<rect x="708.50" y="993" width="5" height="11"/>
<rect x="830.33" y="993" width="6" height="22"/>
<rect x="953.17" y="993" width="5" height="11"/>
<rect x="1075.00" y="993" width="6" height="22"/>
<rect x="1197.83" y="993" width="5" height="11"/>
<rect x="1319.67" y="993" width="6" height="22"/>
<rect x="1442.50" y="993" width="5" height="11"/>
<rect x="1564.33" y="993" width="6" height="22"/>
<rect x="1687.17" y="993" width="5" height="11"/>
<rect x="1809.00" y="993" width="6" height="22"/>
</g>
<text transform="translate(206.50 1007.70) scale(1 1.025)" font-size="55" text-anchor="end">0.0</text>
<text transform="translate(175.92 898.26) scale(1 1.025)" font-size="55" text-anchor="end">0.</text>
<text transform="translate(176.22 899.16) scale(1 1.0)" font-size="52.5" text-anchor="start" style="font-family:IPAPGothic,IPAGothic,'Liberation Sans',sans-serif">1</text>
<text transform="translate(206.50 788.82) scale(1 1.025)" font-size="55" text-anchor="end">0.2</text>
<text transform="translate(206.50 679.38) scale(1 1.025)" font-size="55" text-anchor="end">0.3</text>
<text transform="translate(206.50 569.94) scale(1 1.025)" font-size="55" text-anchor="end">0.4</text>
<text transform="translate(206.50 460.50) scale(1 1.025)" font-size="55" text-anchor="end">0.5</text>
<text transform="translate(206.50 351.06) scale(1 1.025)" font-size="55" text-anchor="end">0.6</text>
<text transform="translate(206.50 241.62) scale(1 1.025)" font-size="55" text-anchor="end">0.7</text>
<text transform="translate(206.50 132.18) scale(1 1.025)" font-size="55" text-anchor="end">0.8</text>
<text transform="translate(343.60 1075.00) scale(1 1.025)" font-size="55" text-anchor="middle">400</text>
<text transform="translate(588.27 1075.00) scale(1 1.025)" font-size="55" text-anchor="middle">450</text>
<text transform="translate(832.93 1075.00) scale(1 1.025)" font-size="55" text-anchor="middle">500</text>
<text transform="translate(1077.60 1075.00) scale(1 1.025)" font-size="55" text-anchor="middle">550</text>
<text transform="translate(1322.27 1075.00) scale(1 1.025)" font-size="55" text-anchor="middle">600</text>
<text transform="translate(1566.93 1075.00) scale(1 1.025)" font-size="55" text-anchor="middle">650</text>
<text transform="translate(1811.60 1075.00) scale(1 1.025)" font-size="55" text-anchor="middle">700</text>
<text transform="translate(1052.30 1176.30) scale(1 1.032)" font-size="56.3" text-anchor="middle">Wavelength (nm)</text>
<g transform="translate(80.5 0) rotate(-90)">
<text transform="translate(-613.8 1.5) scale(1.22 1)" font-size="53.5" style="font-family:'Liberation Serif',serif">α</text>
<text transform="translate(-562.6 0) scale(1 1.032)" font-size="56.5">(cm</text>
<text transform="translate(-468.8 -30.5) scale(1 1.032)" font-size="42">-</text>
<text transform="translate(-456.3 -30.7) scale(1 1.032)" font-size="39.5" style="font-family:IPAPGothic,IPAGothic,'Liberation Sans',sans-serif">1</text>
<text transform="translate(-432.1 0) scale(1 1.032)" font-size="56.5">)</text>
</g>
<rect x="1674" y="75" width="19" height="19" fill="#000"/>
<circle cx="1683.5" cy="152.3" r="10.5" fill="#f00"/>
<path d="M1683.5 204.8l13.5 23h-27z" fill="#00f"/>
<path d="M1683.5 303.8l13.5 -23.5h-27z" fill="#008080"/>
<text transform="translate(1761.50 104.40) scale(1 1.032)" font-size="55.5" text-anchor="start">LO</text>
<text transform="translate(1761.50 172.25) scale(1 1.032)" font-size="55.5" text-anchor="start">LR</text>
<text transform="translate(1761.50 240.10) scale(1 1.032)" font-size="55.5" text-anchor="start">LY</text>
<text transform="translate(1761.50 307.95) scale(1 1.032)" font-size="55.5" text-anchor="start">LV</text>
</svg></body></html>
